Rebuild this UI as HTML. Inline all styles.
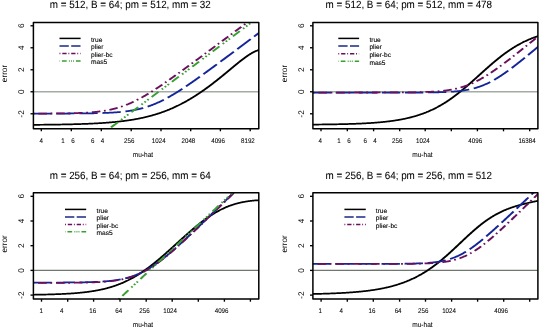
<!DOCTYPE html>
<html><head><meta charset="utf-8"><style>
html,body{margin:0;padding:0;background:#fff;width:539px;height:329px;overflow:hidden}
svg text{font-family:"Liberation Sans", sans-serif;fill:#000;stroke:#000;stroke-width:0.22px}
svg{will-change:transform}
svg text{text-rendering:geometricPrecision}
</style></head><body>
<svg width="539" height="329" viewBox="0 0 539 329" style="display:block">
<rect width="539" height="329" fill="#fff"/>
<defs>
<clipPath id="c1"><rect x="33.4" y="22.4" width="225.40" height="106.30"/></clipPath>
<clipPath id="c2"><rect x="312.9" y="22.4" width="225.00" height="106.30"/></clipPath>
<clipPath id="c3"><rect x="33.4" y="192.65" width="225.40" height="106.45"/></clipPath>
<clipPath id="c4"><rect x="312.9" y="192.7" width="225.00" height="106.40"/></clipPath>
</defs>
<line x1="33.4" y1="91.77" x2="258.8" y2="91.77" stroke="#a3aba3" stroke-width="1.6"/>
<g clip-path="url(#c1)"><g transform="scale(1,0.8)" fill="none" stroke-linejoin="round">
<path d="M27.40,156.06 L27.90,156.06 L28.40,156.06 L28.90,156.05 L29.40,156.05 L29.90,156.04 L30.40,156.04 L30.90,156.04 L31.40,156.03 L31.90,156.03 L32.40,156.03 L32.90,156.02 L33.40,156.02 L33.90,156.01 L34.40,156.01 L34.90,156.00 L35.40,156.00 L35.90,155.99 L36.40,155.99 L36.90,155.99 L37.40,155.98 L37.90,155.98 L38.40,155.97 L38.90,155.97 L39.40,155.96 L39.90,155.96 L40.40,155.95 L40.90,155.94 L41.40,155.94 L41.90,155.93 L42.40,155.93 L42.90,155.92 L43.40,155.92 L43.90,155.91 L44.40,155.90 L44.90,155.90 L45.40,155.89 L45.90,155.89 L46.40,155.88 L46.90,155.87 L47.40,155.87 L47.90,155.86 L48.40,155.85 L48.90,155.85 L49.40,155.84 L49.90,155.83 L50.40,155.82 L50.90,155.82 L51.40,155.81 L51.90,155.80 L52.40,155.79 L52.90,155.78 L53.40,155.78 L53.90,155.77 L54.40,155.76 L54.90,155.75 L55.40,155.74 L55.90,155.73 L56.40,155.72 L56.90,155.71 L57.40,155.71 L57.90,155.70 L58.40,155.69 L58.90,155.68 L59.40,155.67 L59.90,155.66 L60.40,155.65 L60.90,155.63 L61.40,155.62 L61.90,155.61 L62.40,155.60 L62.90,155.59 L63.40,155.58 L63.90,155.57 L64.40,155.56 L64.90,155.54 L65.40,155.53 L65.90,155.52 L66.40,155.51 L66.90,155.49 L67.40,155.48 L67.90,155.47 L68.40,155.45 L68.90,155.44 L69.40,155.43 L69.90,155.41 L70.40,155.40 L70.90,155.38 L71.40,155.37 L71.90,155.35 L72.40,155.34 L72.90,155.32 L73.40,155.31 L73.90,155.29 L74.40,155.27 L74.90,155.26 L75.40,155.24 L75.90,155.22 L76.40,155.20 L76.90,155.19 L77.40,155.17 L77.90,155.15 L78.40,155.13 L78.90,155.11 L79.40,155.09 L79.90,155.07 L80.40,155.05 L80.90,155.03 L81.40,155.01 L81.90,154.99 L82.40,154.97 L82.90,154.95 L83.40,154.92 L83.90,154.90 L84.40,154.88 L84.90,154.85 L85.40,154.83 L85.90,154.81 L86.40,154.78 L86.90,154.76 L87.40,154.73 L87.90,154.71 L88.40,154.68 L88.90,154.65 L89.40,154.63 L89.90,154.60 L90.40,154.57 L90.90,154.54 L91.40,154.51 L91.90,154.48 L92.40,154.45 L92.90,154.42 L93.40,154.39 L93.90,154.36 L94.40,154.33 L94.90,154.30 L95.40,154.26 L95.90,154.23 L96.40,154.20 L96.90,154.16 L97.40,154.13 L97.90,154.09 L98.40,154.06 L98.90,154.02 L99.40,153.98 L99.90,153.94 L100.40,153.91 L100.90,153.87 L101.40,153.83 L101.90,153.79 L102.40,153.74 L102.90,153.70 L103.40,153.66 L103.90,153.62 L104.40,153.57 L104.90,153.53 L105.40,153.48 L105.90,153.44 L106.40,153.39 L106.90,153.34 L107.40,153.30 L107.90,153.25 L108.40,153.20 L108.90,153.15 L109.40,153.10 L109.90,153.04 L110.40,152.99 L110.90,152.94 L111.40,152.88 L111.90,152.83 L112.40,152.77 L112.90,152.71 L113.40,152.66 L113.90,152.60 L114.40,152.54 L114.90,152.48 L115.40,152.41 L115.90,152.35 L116.40,152.29 L116.90,152.22 L117.40,152.16 L117.90,152.09 L118.40,152.02 L118.90,151.95 L119.40,151.88 L119.90,151.81 L120.40,151.74 L120.90,151.67 L121.40,151.59 L121.90,151.52 L122.40,151.44 L122.90,151.37 L123.40,151.29 L123.90,151.21 L124.40,151.13 L124.90,151.04 L125.40,150.96 L125.90,150.87 L126.40,150.79 L126.90,150.70 L127.40,150.61 L127.90,150.52 L128.40,150.43 L128.90,150.34 L129.40,150.25 L129.90,150.15 L130.40,150.05 L130.90,149.96 L131.40,149.86 L131.90,149.75 L132.40,149.65 L132.90,149.55 L133.40,149.44 L133.90,149.34 L134.40,149.23 L134.90,149.12 L135.40,149.01 L135.90,148.89 L136.40,148.78 L136.90,148.66 L137.40,148.54 L137.90,148.43 L138.40,148.30 L138.90,148.18 L139.40,148.06 L139.90,147.93 L140.40,147.80 L140.90,147.67 L141.40,147.54 L141.90,147.41 L142.40,147.27 L142.90,147.13 L143.40,147.00 L143.90,146.86 L144.40,146.71 L144.90,146.57 L145.40,146.42 L145.90,146.27 L146.40,146.12 L146.90,145.97 L147.40,145.82 L147.90,145.66 L148.40,145.50 L148.90,145.34 L149.40,145.18 L149.90,145.01 L150.40,144.85 L150.90,144.68 L151.40,144.51 L151.90,144.34 L152.40,144.16 L152.90,143.98 L153.40,143.80 L153.90,143.62 L154.40,143.44 L154.90,143.25 L155.40,143.06 L155.90,142.87 L156.40,142.68 L156.90,142.48 L157.40,142.29 L157.90,142.09 L158.40,141.88 L158.90,141.68 L159.40,141.47 L159.90,141.26 L160.40,141.05 L160.90,140.84 L161.40,140.62 L161.90,140.40 L162.40,140.18 L162.90,139.96 L163.40,139.73 L163.90,139.50 L164.40,139.27 L164.90,139.03 L165.40,138.80 L165.90,138.56 L166.40,138.31 L166.90,138.07 L167.40,137.82 L167.90,137.57 L168.40,137.32 L168.90,137.07 L169.40,136.81 L169.90,136.55 L170.40,136.29 L170.90,136.02 L171.40,135.75 L171.90,135.48 L172.40,135.21 L172.90,134.93 L173.40,134.65 L173.90,134.37 L174.40,134.09 L174.90,133.80 L175.40,133.51 L175.90,133.22 L176.40,132.92 L176.90,132.62 L177.40,132.32 L177.90,132.02 L178.40,131.71 L178.90,131.40 L179.40,131.09 L179.90,130.78 L180.40,130.46 L180.90,130.14 L181.40,129.82 L181.90,129.49 L182.40,129.17 L182.90,128.83 L183.40,128.50 L183.90,128.16 L184.40,127.83 L184.90,127.48 L185.40,127.14 L185.90,126.79 L186.40,126.44 L186.90,126.09 L187.40,125.73 L187.90,125.37 L188.40,125.01 L188.90,124.65 L189.40,124.28 L189.90,123.91 L190.40,123.54 L190.90,123.17 L191.40,122.79 L191.90,122.41 L192.40,122.03 L192.90,121.64 L193.40,121.26 L193.90,120.87 L194.40,120.47 L194.90,120.08 L195.40,119.68 L195.90,119.28 L196.40,118.88 L196.90,118.47 L197.40,118.06 L197.90,117.65 L198.40,117.24 L198.90,116.82 L199.40,116.40 L199.90,115.98 L200.40,115.56 L200.90,115.13 L201.40,114.71 L201.90,114.28 L202.40,113.84 L202.90,113.41 L203.40,112.97 L203.90,112.53 L204.40,112.09 L204.90,111.64 L205.40,111.20 L205.90,110.75 L206.40,110.30 L206.90,109.84 L207.40,109.39 L207.90,108.93 L208.40,108.47 L208.90,108.01 L209.40,107.54 L209.90,107.08 L210.40,106.61 L210.90,106.14 L211.40,105.66 L211.90,105.19 L212.40,104.71 L212.90,104.23 L213.40,103.75 L213.90,103.27 L214.40,102.79 L214.90,102.30 L215.40,101.82 L215.90,101.33 L216.40,100.83 L216.90,100.34 L217.40,99.85 L217.90,99.35 L218.40,98.85 L218.90,98.36 L219.40,97.86 L219.90,97.35 L220.40,96.85 L220.90,96.35 L221.40,95.84 L221.90,95.33 L222.40,94.82 L222.90,94.31 L223.40,93.80 L223.90,93.29 L224.40,92.78 L224.90,92.27 L225.40,91.75 L225.90,91.24 L226.40,90.72 L226.90,90.20 L227.40,89.69 L227.90,89.17 L228.40,88.65 L228.90,88.13 L229.40,87.61 L229.90,87.09 L230.40,86.57 L230.90,86.05 L231.40,85.54 L231.90,85.02 L232.40,84.50 L232.90,83.98 L233.40,83.46 L233.90,82.94 L234.40,82.43 L234.90,81.91 L235.40,81.40 L235.90,80.89 L236.40,80.37 L236.90,79.86 L237.40,79.36 L237.90,78.85 L238.40,78.35 L238.90,77.84 L239.40,77.34 L239.90,76.85 L240.40,76.35 L240.90,75.86 L241.40,75.37 L241.90,74.89 L242.40,74.41 L242.90,73.93 L243.40,73.46 L243.90,72.99 L244.40,72.52 L244.90,72.07 L245.40,71.61 L245.90,71.16 L246.40,70.72 L246.90,70.29 L247.40,69.86 L247.90,69.44 L248.40,69.02 L248.90,68.61 L249.40,68.21 L249.90,67.82 L250.40,67.44 L250.90,67.06 L251.40,66.69 L251.90,66.34 L252.40,65.99 L252.90,65.65 L253.40,65.33 L253.90,65.01 L254.40,64.70 L254.90,64.41 L255.40,64.12 L255.90,63.85 L256.40,63.59 L256.90,63.34 L257.40,63.11 L257.90,62.88 L258.40,62.67 L258.90,62.47 L259.40,62.28 L259.90,62.11 L260.40,61.95 L260.90,61.80 L261.40,61.67 L261.90,61.54 L262.40,61.43 L262.90,61.34 L263.40,61.25 L263.90,61.18 L264.40,61.12" stroke="#000000" stroke-width="2.15"/>
<path d="M27.40,141.95 L27.90,141.95 L28.40,141.95 L28.90,141.95 L29.40,141.95 L29.90,141.95 L30.40,141.95 L30.90,141.95 L31.40,141.95 L31.90,141.95 L32.40,141.95 L32.90,141.95 L33.40,141.95 L33.90,141.95 L34.40,141.95 L34.90,141.95 L35.40,141.95 L35.90,141.95 L36.40,141.95 L36.90,141.95 L37.40,141.95 L37.90,141.95 L38.40,141.95 L38.90,141.95 L39.40,141.95 L39.90,141.95 L40.40,141.94 L40.90,141.94 L41.40,141.94 L41.90,141.94 L42.40,141.94 L42.90,141.94 L43.40,141.94 L43.90,141.94 L44.40,141.94 L44.90,141.94 L45.40,141.94 L45.90,141.94 L46.40,141.94 L46.90,141.94 L47.40,141.94 L47.90,141.94 L48.40,141.94 L48.90,141.93 L49.40,141.93 L49.90,141.93 L50.40,141.93 L50.90,141.93 L51.40,141.93 L51.90,141.93 L52.40,141.93 L52.90,141.93 L53.40,141.93 L53.90,141.93 L54.40,141.92 L54.90,141.92 L55.40,141.92 L55.90,141.92 L56.40,141.92 L56.90,141.92 L57.40,141.92 L57.90,141.92 L58.40,141.92 L58.90,141.91 L59.40,141.91 L59.90,141.91 L60.40,141.91 L60.90,141.91 L61.40,141.91 L61.90,141.90 L62.40,141.90 L62.90,141.90 L63.40,141.90 L63.90,141.90 L64.40,141.89 L64.90,141.89 L65.40,141.89 L65.90,141.89 L66.40,141.89 L66.90,141.88 L67.40,141.88 L67.90,141.88 L68.40,141.88 L68.90,141.87 L69.40,141.87 L69.90,141.87 L70.40,141.87 L70.90,141.86 L71.40,141.86 L71.90,141.86 L72.40,141.85 L72.90,141.85 L73.40,141.85 L73.90,141.84 L74.40,141.84 L74.90,141.84 L75.40,141.83 L75.90,141.83 L76.40,141.82 L76.90,141.82 L77.40,141.81 L77.90,141.81 L78.40,141.81 L78.90,141.80 L79.40,141.80 L79.90,141.79 L80.40,141.79 L80.90,141.78 L81.40,141.77 L81.90,141.77 L82.40,141.76 L82.90,141.76 L83.40,141.75 L83.90,141.74 L84.40,141.74 L84.90,141.73 L85.40,141.72 L85.90,141.71 L86.40,141.71 L86.90,141.70 L87.40,141.69 L87.90,141.68 L88.40,141.67 L88.90,141.66 L89.40,141.65 L89.90,141.65 L90.40,141.64 L90.90,141.62 L91.40,141.61 L91.90,141.60 L92.40,141.59 L92.90,141.58 L93.40,141.57 L93.90,141.56 L94.40,141.54 L94.90,141.53 L95.40,141.52 L95.90,141.50 L96.40,141.49 L96.90,141.48 L97.40,141.46 L97.90,141.44 L98.40,141.43 L98.90,141.41 L99.40,141.39 L99.90,141.38 L100.40,141.36 L100.90,141.34 L101.40,141.32 L101.90,141.30 L102.40,141.28 L102.90,141.26 L103.40,141.24 L103.90,141.22 L104.40,141.19 L104.90,141.17 L105.40,141.14 L105.90,141.12 L106.40,141.09 L106.90,141.07 L107.40,141.04 L107.90,141.01 L108.40,140.98 L108.90,140.95 L109.40,140.92 L109.90,140.89 L110.40,140.86 L110.90,140.82 L111.40,140.79 L111.90,140.75 L112.40,140.71 L112.90,140.68 L113.40,140.64 L113.90,140.60 L114.40,140.56 L114.90,140.51 L115.40,140.47 L115.90,140.42 L116.40,140.38 L116.90,140.33 L117.40,140.28 L117.90,140.23 L118.40,140.18 L118.90,140.13 L119.40,140.07 L119.90,140.01 L120.40,139.96 L120.90,139.90 L121.40,139.84 L121.90,139.77 L122.40,139.71 L122.90,139.64 L123.40,139.57 L123.90,139.50 L124.40,139.43 L124.90,139.36 L125.40,139.28 L125.90,139.20 L126.40,139.12 L126.90,139.04 L127.40,138.96 L127.90,138.87 L128.40,138.78 L128.90,138.69 L129.40,138.60 L129.90,138.51 L130.40,138.41 L130.90,138.31 L131.40,138.20 L131.90,138.10 L132.40,137.99 L132.90,137.88 L133.40,137.77 L133.90,137.65 L134.40,137.53 L134.90,137.41 L135.40,137.29 L135.90,137.16 L136.40,137.03 L136.90,136.90 L137.40,136.76 L137.90,136.62 L138.40,136.48 L138.90,136.34 L139.40,136.19 L139.90,136.04 L140.40,135.88 L140.90,135.72 L141.40,135.56 L141.90,135.40 L142.40,135.23 L142.90,135.06 L143.40,134.88 L143.90,134.70 L144.40,134.52 L144.90,134.34 L145.40,134.15 L145.90,133.96 L146.40,133.76 L146.90,133.56 L147.40,133.36 L147.90,133.15 L148.40,132.94 L148.90,132.73 L149.40,132.51 L149.90,132.29 L150.40,132.06 L150.90,131.84 L151.40,131.60 L151.90,131.37 L152.40,131.13 L152.90,130.88 L153.40,130.64 L153.90,130.39 L154.40,130.13 L154.90,129.88 L155.40,129.61 L155.90,129.35 L156.40,129.08 L156.90,128.81 L157.40,128.53 L157.90,128.25 L158.40,127.97 L158.90,127.68 L159.40,127.39 L159.90,127.10 L160.40,126.80 L160.90,126.50 L161.40,126.20 L161.90,125.89 L162.40,125.58 L162.90,125.27 L163.40,124.95 L163.90,124.63 L164.40,124.31 L164.90,123.99 L165.40,123.66 L165.90,123.32 L166.40,122.99 L166.90,122.65 L167.40,122.31 L167.90,121.97 L168.40,121.62 L168.90,121.27 L169.40,120.92 L169.90,120.56 L170.40,120.20 L170.90,119.84 L171.40,119.48 L171.90,119.12 L172.40,118.75 L172.90,118.38 L173.40,118.00 L173.90,117.63 L174.40,117.25 L174.90,116.87 L175.40,116.49 L175.90,116.11 L176.40,115.72 L176.90,115.33 L177.40,114.94 L177.90,114.55 L178.40,114.15 L178.90,113.76 L179.40,113.36 L179.90,112.96 L180.40,112.56 L180.90,112.15 L181.40,111.75 L181.90,111.34 L182.40,110.93 L182.90,110.52 L183.40,110.11 L183.90,109.69 L184.40,109.28 L184.90,108.86 L185.40,108.44 L185.90,108.03 L186.40,107.60 L186.90,107.18 L187.40,106.76 L187.90,106.33 L188.40,105.91 L188.90,105.48 L189.40,105.05 L189.90,104.62 L190.40,104.19 L190.90,103.76 L191.40,103.33 L191.90,102.90 L192.40,102.46 L192.90,102.03 L193.40,101.59 L193.90,101.15 L194.40,100.71 L194.90,100.27 L195.40,99.83 L195.90,99.39 L196.40,98.95 L196.90,98.51 L197.40,98.07 L197.90,97.62 L198.40,97.18 L198.90,96.73 L199.40,96.28 L199.90,95.84 L200.40,95.39 L200.90,94.94 L201.40,94.49 L201.90,94.04 L202.40,93.59 L202.90,93.14 L203.40,92.69 L203.90,92.24 L204.40,91.79 L204.90,91.34 L205.40,90.88 L205.90,90.43 L206.40,89.98 L206.90,89.52 L207.40,89.07 L207.90,88.61 L208.40,88.16 L208.90,87.70 L209.40,87.25 L209.90,86.79 L210.40,86.33 L210.90,85.87 L211.40,85.42 L211.90,84.96 L212.40,84.50 L212.90,84.04 L213.40,83.58 L213.90,83.12 L214.40,82.66 L214.90,82.20 L215.40,81.74 L215.90,81.28 L216.40,80.82 L216.90,80.36 L217.40,79.90 L217.90,79.44 L218.40,78.98 L218.90,78.52 L219.40,78.05 L219.90,77.59 L220.40,77.13 L220.90,76.67 L221.40,76.20 L221.90,75.74 L222.40,75.28 L222.90,74.81 L223.40,74.35 L223.90,73.89 L224.40,73.42 L224.90,72.96 L225.40,72.50 L225.90,72.03 L226.40,71.57 L226.90,71.10 L227.40,70.64 L227.90,70.17 L228.40,69.71 L228.90,69.24 L229.40,68.78 L229.90,68.31 L230.40,67.85 L230.90,67.38 L231.40,66.92 L231.90,66.45 L232.40,65.99 L232.90,65.52 L233.40,65.05 L233.90,64.59 L234.40,64.12 L234.90,63.66 L235.40,63.19 L235.90,62.72 L236.40,62.26 L236.90,61.79 L237.40,61.33 L237.90,60.86 L238.40,60.39 L238.90,59.93 L239.40,59.46 L239.90,58.99 L240.40,58.53 L240.90,58.06 L241.40,57.59 L241.90,57.12 L242.40,56.66 L242.90,56.19 L243.40,55.72 L243.90,55.26 L244.40,54.79 L244.90,54.32 L245.40,53.85 L245.90,53.39 L246.40,52.92 L246.90,52.45 L247.40,51.98 L247.90,51.52 L248.40,51.05 L248.90,50.58 L249.40,50.11 L249.90,49.65 L250.40,49.18 L250.90,48.71 L251.40,48.24 L251.90,47.78 L252.40,47.31 L252.90,46.84 L253.40,46.37 L253.90,45.90 L254.40,45.44 L254.90,44.97 L255.40,44.50 L255.90,44.03 L256.40,43.56 L256.90,43.10 L257.40,42.63 L257.90,42.16 L258.40,41.69 L258.90,41.22 L259.40,40.76 L259.90,40.29 L260.40,39.82 L260.90,39.35 L261.40,38.88 L261.90,38.42 L262.40,37.95 L262.90,37.48 L263.40,37.01 L263.90,36.54 L264.40,36.07" stroke="#14259a" stroke-width="2.2" stroke-dasharray="18.35 4.73" stroke-dashoffset="17.29"/>
<path d="M27.40,141.99 L27.90,141.99 L28.40,141.99 L28.90,141.99 L29.40,141.98 L29.90,141.98 L30.40,141.98 L30.90,141.98 L31.40,141.98 L31.90,141.98 L32.40,141.98 L32.90,141.98 L33.40,141.97 L33.90,141.97 L34.40,141.97 L34.90,141.97 L35.40,141.97 L35.90,141.97 L36.40,141.97 L36.90,141.96 L37.40,141.96 L37.90,141.96 L38.40,141.96 L38.90,141.96 L39.40,141.95 L39.90,141.95 L40.40,141.95 L40.90,141.95 L41.40,141.94 L41.90,141.94 L42.40,141.94 L42.90,141.94 L43.40,141.93 L43.90,141.93 L44.40,141.93 L44.90,141.93 L45.40,141.92 L45.90,141.92 L46.40,141.92 L46.90,141.91 L47.40,141.91 L47.90,141.91 L48.40,141.90 L48.90,141.90 L49.40,141.90 L49.90,141.89 L50.40,141.89 L50.90,141.88 L51.40,141.88 L51.90,141.87 L52.40,141.87 L52.90,141.87 L53.40,141.86 L53.90,141.86 L54.40,141.85 L54.90,141.84 L55.40,141.84 L55.90,141.83 L56.40,141.83 L56.90,141.82 L57.40,141.82 L57.90,141.81 L58.40,141.80 L58.90,141.79 L59.40,141.79 L59.90,141.78 L60.40,141.77 L60.90,141.76 L61.40,141.76 L61.90,141.75 L62.40,141.74 L62.90,141.73 L63.40,141.72 L63.90,141.71 L64.40,141.70 L64.90,141.69 L65.40,141.68 L65.90,141.67 L66.40,141.66 L66.90,141.65 L67.40,141.64 L67.90,141.62 L68.40,141.61 L68.90,141.60 L69.40,141.59 L69.90,141.57 L70.40,141.56 L70.90,141.54 L71.40,141.53 L71.90,141.51 L72.40,141.50 L72.90,141.48 L73.40,141.46 L73.90,141.45 L74.40,141.43 L74.90,141.41 L75.40,141.39 L75.90,141.37 L76.40,141.35 L76.90,141.33 L77.40,141.31 L77.90,141.28 L78.40,141.26 L78.90,141.24 L79.40,141.21 L79.90,141.19 L80.40,141.16 L80.90,141.13 L81.40,141.11 L81.90,141.08 L82.40,141.05 L82.90,141.02 L83.40,140.99 L83.90,140.96 L84.40,140.92 L84.90,140.89 L85.40,140.85 L85.90,140.82 L86.40,140.78 L86.90,140.74 L87.40,140.70 L87.90,140.66 L88.40,140.62 L88.90,140.58 L89.40,140.53 L89.90,140.49 L90.40,140.44 L90.90,140.39 L91.40,140.34 L91.90,140.29 L92.40,140.24 L92.90,140.19 L93.40,140.13 L93.90,140.07 L94.40,140.02 L94.90,139.96 L95.40,139.89 L95.90,139.83 L96.40,139.76 L96.90,139.70 L97.40,139.63 L97.90,139.56 L98.40,139.49 L98.90,139.41 L99.40,139.33 L99.90,139.25 L100.40,139.17 L100.90,139.09 L101.40,139.01 L101.90,138.92 L102.40,138.83 L102.90,138.74 L103.40,138.64 L103.90,138.54 L104.40,138.45 L104.90,138.34 L105.40,138.24 L105.90,138.13 L106.40,138.02 L106.90,137.91 L107.40,137.80 L107.90,137.68 L108.40,137.56 L108.90,137.43 L109.40,137.31 L109.90,137.18 L110.40,137.05 L110.90,136.91 L111.40,136.77 L111.90,136.63 L112.40,136.49 L112.90,136.34 L113.40,136.19 L113.90,136.03 L114.40,135.88 L114.90,135.72 L115.40,135.55 L115.90,135.38 L116.40,135.21 L116.90,135.04 L117.40,134.86 L117.90,134.68 L118.40,134.49 L118.90,134.31 L119.40,134.11 L119.90,133.92 L120.40,133.72 L120.90,133.52 L121.40,133.31 L121.90,133.10 L122.40,132.89 L122.90,132.67 L123.40,132.45 L123.90,132.22 L124.40,132.00 L124.90,131.76 L125.40,131.53 L125.90,131.29 L126.40,131.04 L126.90,130.80 L127.40,130.55 L127.90,130.29 L128.40,130.04 L128.90,129.77 L129.40,129.51 L129.90,129.24 L130.40,128.97 L130.90,128.69 L131.40,128.41 L131.90,128.13 L132.40,127.84 L132.90,127.55 L133.40,127.26 L133.90,126.96 L134.40,126.66 L134.90,126.36 L135.40,126.05 L135.90,125.74 L136.40,125.43 L136.90,125.11 L137.40,124.79 L137.90,124.47 L138.40,124.14 L138.90,123.81 L139.40,123.48 L139.90,123.15 L140.40,122.81 L140.90,122.47 L141.40,122.12 L141.90,121.78 L142.40,121.43 L142.90,121.08 L143.40,120.72 L143.90,120.36 L144.40,120.00 L144.90,119.64 L145.40,119.28 L145.90,118.91 L146.40,118.54 L146.90,118.16 L147.40,117.79 L147.90,117.41 L148.40,117.03 L148.90,116.65 L149.40,116.27 L149.90,115.88 L150.40,115.49 L150.90,115.10 L151.40,114.71 L151.90,114.32 L152.40,113.92 L152.90,113.53 L153.40,113.13 L153.90,112.72 L154.40,112.32 L154.90,111.92 L155.40,111.51 L155.90,111.10 L156.40,110.69 L156.90,110.28 L157.40,109.87 L157.90,109.46 L158.40,109.04 L158.90,108.62 L159.40,108.21 L159.90,107.79 L160.40,107.37 L160.90,106.94 L161.40,106.52 L161.90,106.10 L162.40,105.67 L162.90,105.24 L163.40,104.82 L163.90,104.39 L164.40,103.96 L164.90,103.53 L165.40,103.09 L165.90,102.66 L166.40,102.23 L166.90,101.79 L167.40,101.36 L167.90,100.92 L168.40,100.48 L168.90,100.04 L169.40,99.60 L169.90,99.16 L170.40,98.72 L170.90,98.28 L171.40,97.84 L171.90,97.40 L172.40,96.95 L172.90,96.51 L173.40,96.07 L173.90,95.62 L174.40,95.17 L174.90,94.73 L175.40,94.28 L175.90,93.83 L176.40,93.39 L176.90,92.94 L177.40,92.49 L177.90,92.04 L178.40,91.59 L178.90,91.14 L179.40,90.69 L179.90,90.24 L180.40,89.78 L180.90,89.33 L181.40,88.88 L181.90,88.43 L182.40,87.97 L182.90,87.52 L183.40,87.06 L183.90,86.61 L184.40,86.15 L184.90,85.70 L185.40,85.24 L185.90,84.79 L186.40,84.33 L186.90,83.88 L187.40,83.42 L187.90,82.96 L188.40,82.51 L188.90,82.05 L189.40,81.59 L189.90,81.13 L190.40,80.67 L190.90,80.22 L191.40,79.76 L191.90,79.30 L192.40,78.84 L192.90,78.38 L193.40,77.92 L193.90,77.46 L194.40,77.00 L194.90,76.54 L195.40,76.08 L195.90,75.62 L196.40,75.16 L196.90,74.70 L197.40,74.24 L197.90,73.78 L198.40,73.32 L198.90,72.86 L199.40,72.40 L199.90,71.94 L200.40,71.47 L200.90,71.01 L201.40,70.55 L201.90,70.09 L202.40,69.63 L202.90,69.17 L203.40,68.70 L203.90,68.24 L204.40,67.78 L204.90,67.32 L205.40,66.85 L205.90,66.39 L206.40,65.93 L206.90,65.47 L207.40,65.00 L207.90,64.54 L208.40,64.08 L208.90,63.61 L209.40,63.15 L209.90,62.69 L210.40,62.22 L210.90,61.76 L211.40,61.30 L211.90,60.83 L212.40,60.37 L212.90,59.91 L213.40,59.44 L213.90,58.98 L214.40,58.52 L214.90,58.05 L215.40,57.59 L215.90,57.12 L216.40,56.66 L216.90,56.20 L217.40,55.73 L217.90,55.27 L218.40,54.80 L218.90,54.34 L219.40,53.88 L219.90,53.41 L220.40,52.95 L220.90,52.48 L221.40,52.02 L221.90,51.55 L222.40,51.09 L222.90,50.63 L223.40,50.16 L223.90,49.70 L224.40,49.23 L224.90,48.77 L225.40,48.30 L225.90,47.84 L226.40,47.37 L226.90,46.91 L227.40,46.45 L227.90,45.98 L228.40,45.52 L228.90,45.05 L229.40,44.59 L229.90,44.12 L230.40,43.66 L230.90,43.19 L231.40,42.73 L231.90,42.26 L232.40,41.80 L232.90,41.33 L233.40,40.87 L233.90,40.40 L234.40,39.94 L234.90,39.47 L235.40,39.01 L235.90,38.54 L236.40,38.08 L236.90,37.61 L237.40,37.15 L237.90,36.68 L238.40,36.22 L238.90,35.75 L239.40,35.29 L239.90,34.82 L240.40,34.36 L240.90,33.89 L241.40,33.43 L241.90,32.96 L242.40,32.50 L242.90,32.03 L243.40,31.57 L243.90,31.10 L244.40,30.64 L244.90,30.17 L245.40,29.71 L245.90,29.24 L246.40,28.78 L246.90,28.31 L247.40,27.85 L247.90,27.38 L248.40,26.92 L248.90,26.45 L249.40,25.99 L249.90,25.52 L250.40,25.06 L250.90,24.59 L251.40,24.13 L251.90,23.66 L252.40,23.20 L252.90,22.73 L253.40,22.27 L253.90,21.80 L254.40,21.34 L254.90,20.87 L255.40,20.41 L255.90,19.94 L256.40,19.48 L256.90,19.01 L257.40,18.54 L257.90,18.08 L258.40,17.61 L258.90,17.15 L259.40,16.68 L259.90,16.22 L260.40,15.75 L260.90,15.29 L261.40,14.82 L261.90,14.36 L262.40,13.89 L262.90,13.43 L263.40,12.96 L263.90,12.50 L264.40,12.03" stroke="#6a0f5c" stroke-width="2.2" stroke-dasharray="1.805 3.815 8.62 3.61" stroke-dashoffset="12.52"/>
<path d="M96.80,172.45 L97.80,171.52 L98.80,170.59 L99.80,169.65 L100.80,168.72 L101.80,167.78 L102.80,166.85 L103.80,165.92 L104.80,164.98 L105.80,164.05 L106.80,163.12 L107.80,162.18 L108.80,161.25 L109.80,160.32 L110.80,159.38 L111.80,158.45 L112.80,157.52 L113.80,156.58 L114.80,155.65 L115.80,154.72 L116.80,153.78 L117.80,152.85 L118.80,151.91 L119.80,150.98 L120.80,150.05 L121.80,149.11 L122.80,148.18 L123.80,147.25 L124.80,146.31 L125.80,145.38 L126.80,144.45 L127.80,143.51 L128.80,142.58 L129.80,141.65 L130.80,140.71 L131.80,139.78 L132.80,138.84 L133.80,137.91 L134.80,136.98 L135.80,136.04 L136.80,135.11 L137.80,134.18 L138.80,133.24 L139.80,132.31 L140.80,131.38 L141.80,130.44 L142.80,129.51 L143.80,128.58 L144.80,127.64 L145.80,126.71 L146.80,125.77 L147.80,124.84 L148.80,123.91 L149.80,122.97 L150.80,122.04 L151.80,121.11 L152.80,120.17 L153.80,119.24 L154.80,118.31 L155.80,117.37 L156.80,116.44 L157.80,115.51 L158.80,114.57 L159.80,113.64 L160.80,112.71 L161.80,111.77 L162.80,110.84 L163.80,109.90 L164.80,108.97 L165.80,108.04 L166.80,107.10 L167.80,106.17 L168.80,105.24 L169.80,104.30 L170.80,103.37 L171.80,102.44 L172.80,101.50 L173.80,100.57 L174.80,99.64 L175.80,98.70 L176.80,97.77 L177.80,96.83 L178.80,95.90 L179.80,94.97 L180.80,94.03 L181.80,93.10 L182.80,92.17 L183.80,91.23 L184.80,90.30 L185.80,89.37 L186.80,88.43 L187.80,87.50 L188.80,86.57 L189.80,85.63 L190.80,84.70 L191.80,83.76 L192.80,82.83 L193.80,81.90 L194.80,80.96 L195.80,80.03 L196.80,79.10 L197.80,78.16 L198.80,77.23 L199.80,76.30 L200.80,75.36 L201.80,74.43 L202.80,73.50 L203.80,72.56 L204.80,71.63 L205.80,70.70 L206.80,69.76 L207.80,68.83 L208.80,67.89 L209.80,66.96 L210.80,66.03 L211.80,65.09 L212.80,64.16 L213.80,63.23 L214.80,62.29 L215.80,61.36 L216.80,60.43 L217.80,59.49 L218.80,58.56 L219.80,57.63 L220.80,56.69 L221.80,55.76 L222.80,54.82 L223.80,53.89 L224.80,52.96 L225.80,52.02 L226.80,51.09 L227.80,50.16 L228.80,49.22 L229.80,48.29 L230.80,47.36 L231.80,46.42 L232.80,45.49 L233.80,44.56 L234.80,43.62 L235.80,42.69 L236.80,41.75 L237.80,40.82 L238.80,39.89 L239.80,38.95 L240.80,38.02 L241.80,37.09 L242.80,36.15 L243.80,35.22 L244.80,34.29 L245.80,33.35 L246.80,32.42 L247.80,31.49 L248.80,30.55 L249.80,29.62 L250.80,28.69 L251.80,27.75 L252.80,26.82 L253.80,25.88 L254.80,24.95 L255.80,24.02 L256.80,23.08 L257.80,22.15 L258.80,21.22 L259.80,20.28 L260.80,19.35 L261.80,18.42 L262.80,17.48" stroke="#36a031" stroke-width="2.2" stroke-dasharray="9.33 4.47 1.79 2.38 1.79 2.18 1.79 4.07" stroke-dashoffset="8.37"/>
</g></g>
<rect x="33.4" y="22.4" width="225.40" height="106.30" fill="none" stroke="#000" stroke-width="1.5" stroke-linejoin="round"/>
<line x1="30.50" y1="25.77" x2="33.4" y2="25.77" stroke="#000" stroke-width="1.35"/>
<text transform="translate(21.60,25.77) rotate(-90)" text-anchor="middle" dominant-baseline="central" font-size="8.2" style="stroke-width:0.0px">6</text>
<line x1="30.50" y1="47.77" x2="33.4" y2="47.77" stroke="#000" stroke-width="1.35"/>
<text transform="translate(21.60,47.77) rotate(-90)" text-anchor="middle" dominant-baseline="central" font-size="8.2" style="stroke-width:0.0px">4</text>
<line x1="30.50" y1="69.77" x2="33.4" y2="69.77" stroke="#000" stroke-width="1.35"/>
<text transform="translate(21.60,69.77) rotate(-90)" text-anchor="middle" dominant-baseline="central" font-size="8.2" style="stroke-width:0.0px">2</text>
<line x1="30.50" y1="91.77" x2="33.4" y2="91.77" stroke="#000" stroke-width="1.35"/>
<text transform="translate(21.60,91.77) rotate(-90)" text-anchor="middle" dominant-baseline="central" font-size="8.2" style="stroke-width:0.0px">0</text>
<line x1="30.50" y1="113.77" x2="33.4" y2="113.77" stroke="#000" stroke-width="1.35"/>
<text transform="translate(21.60,113.77) rotate(-90)" text-anchor="middle" dominant-baseline="central" font-size="8.2" style="stroke-width:0.0px">-2</text>
<line x1="41.3" y1="128.7" x2="41.3" y2="131.30" stroke="#000" stroke-width="1.35"/>
<text transform="translate(41.30,142.60) scale(1,1.1)" text-anchor="middle" font-size="6.2" style="stroke-width:0.05px">4</text>
<line x1="71.3" y1="128.7" x2="71.3" y2="131.30" stroke="#000" stroke-width="1.35"/>
<text transform="translate(62.90,142.60) scale(1,1.1)" text-anchor="middle" font-size="6.2" style="stroke-width:0.05px">1</text>
<text transform="translate(72.90,142.60) scale(1,1.1)" text-anchor="middle" font-size="6.2" style="stroke-width:0.05px">6</text>
<line x1="101.3" y1="128.7" x2="101.3" y2="131.30" stroke="#000" stroke-width="1.35"/>
<text transform="translate(92.80,142.60) scale(1,1.1)" text-anchor="middle" font-size="6.2" style="stroke-width:0.05px">6</text>
<text transform="translate(102.50,142.60) scale(1,1.1)" text-anchor="middle" font-size="6.2" style="stroke-width:0.05px">4</text>
<line x1="131.2" y1="128.7" x2="131.2" y2="131.30" stroke="#000" stroke-width="1.35"/>
<text transform="translate(129.20,142.60) scale(1,1.1)" text-anchor="middle" font-size="6.2" style="stroke-width:0.05px">256</text>
<line x1="161" y1="128.7" x2="161" y2="131.30" stroke="#000" stroke-width="1.35"/>
<text transform="translate(158.70,142.60) scale(1,1.1)" text-anchor="middle" font-size="6.2" style="stroke-width:0.05px">1024</text>
<line x1="190.7" y1="128.7" x2="190.7" y2="131.30" stroke="#000" stroke-width="1.35"/>
<text transform="translate(188.40,142.60) scale(1,1.1)" text-anchor="middle" font-size="6.2" style="stroke-width:0.05px">2048</text>
<line x1="220.4" y1="128.7" x2="220.4" y2="131.30" stroke="#000" stroke-width="1.35"/>
<text transform="translate(218.10,142.60) scale(1,1.1)" text-anchor="middle" font-size="6.2" style="stroke-width:0.05px">4096</text>
<line x1="250.2" y1="128.7" x2="250.2" y2="131.30" stroke="#000" stroke-width="1.35"/>
<text transform="translate(247.90,142.60) scale(1,1.1)" text-anchor="middle" font-size="6.2" style="stroke-width:0.05px">8192</text>
<text transform="translate(142.90,156.90) scale(1,1.1)" text-anchor="middle" font-size="6.55" style="stroke-width:0.05px">mu-hat</text>
<text transform="translate(4.60,73.50) rotate(-90)" text-anchor="middle" dominant-baseline="central" font-size="8.2" style="stroke-width:0.0px">error</text>
<text transform="translate(49.7,8.35) scale(1,1.07)" font-size="9.8" style="stroke-width:0.05px" textLength="161.0" lengthAdjust="spacingAndGlyphs">m = 512, B = 64; pm = 512, mm = 32</text>
<line x1="59.5" y1="38.4" x2="80.6" y2="38.4" stroke="#000000" stroke-width="1.5"/>
<text x="91.0" y="41.70" font-size="6.6" style="stroke-width:0.1px">true</text>
<line x1="59.5" y1="46.0" x2="80.6" y2="46.0" stroke="#182a88" stroke-width="1.5" stroke-dasharray="9.3 2.4" stroke-dashoffset="0"/>
<text x="91.0" y="49.30" font-size="6.6" style="stroke-width:0.1px">plier</text>
<line x1="59.5" y1="53.6" x2="80.6" y2="53.6" stroke="#6a0f5c" stroke-width="1.5" stroke-dasharray="0.9 1.9 4.3 1.8" stroke-dashoffset="0"/>
<text x="91.0" y="56.90" font-size="6.6" style="stroke-width:0.1px">plier-bc</text>
<line x1="59.5" y1="61.1" x2="80.6" y2="61.1" stroke="#36a031" stroke-width="1.5" stroke-dasharray="4.7 2.25 0.9 1.2 0.9 1.1 0.9 2.05" stroke-dashoffset="-2.45"/>
<text x="91.0" y="64.40" font-size="6.6" style="stroke-width:0.1px">mas5</text>
<line x1="312.9" y1="91.77" x2="537.9" y2="91.77" stroke="#a3aba3" stroke-width="1.6"/>
<g clip-path="url(#c2)"><g transform="scale(1,0.8)" fill="none" stroke-linejoin="round">
<path d="M306.90,155.76 L307.40,155.76 L307.90,155.76 L308.40,155.75 L308.90,155.75 L309.40,155.74 L309.90,155.74 L310.40,155.73 L310.90,155.73 L311.40,155.73 L311.90,155.72 L312.40,155.72 L312.90,155.71 L313.40,155.71 L313.90,155.70 L314.40,155.70 L314.90,155.69 L315.40,155.69 L315.90,155.68 L316.40,155.67 L316.90,155.67 L317.40,155.66 L317.90,155.66 L318.40,155.65 L318.90,155.65 L319.40,155.64 L319.90,155.63 L320.40,155.63 L320.90,155.62 L321.40,155.61 L321.90,155.61 L322.40,155.60 L322.90,155.59 L323.40,155.59 L323.90,155.58 L324.40,155.57 L324.90,155.56 L325.40,155.56 L325.90,155.55 L326.40,155.54 L326.90,155.53 L327.40,155.52 L327.90,155.52 L328.40,155.51 L328.90,155.50 L329.40,155.49 L329.90,155.48 L330.40,155.47 L330.90,155.46 L331.40,155.45 L331.90,155.44 L332.40,155.43 L332.90,155.42 L333.40,155.41 L333.90,155.40 L334.40,155.39 L334.90,155.38 L335.40,155.37 L335.90,155.36 L336.40,155.35 L336.90,155.34 L337.40,155.32 L337.90,155.31 L338.40,155.30 L338.90,155.29 L339.40,155.27 L339.90,155.26 L340.40,155.25 L340.90,155.23 L341.40,155.22 L341.90,155.21 L342.40,155.19 L342.90,155.18 L343.40,155.16 L343.90,155.15 L344.40,155.13 L344.90,155.12 L345.40,155.10 L345.90,155.08 L346.40,155.07 L346.90,155.05 L347.40,155.03 L347.90,155.02 L348.40,155.00 L348.90,154.98 L349.40,154.96 L349.90,154.94 L350.40,154.92 L350.90,154.90 L351.40,154.88 L351.90,154.86 L352.40,154.84 L352.90,154.82 L353.40,154.80 L353.90,154.78 L354.40,154.75 L354.90,154.73 L355.40,154.71 L355.90,154.69 L356.40,154.66 L356.90,154.64 L357.40,154.61 L357.90,154.59 L358.40,154.56 L358.90,154.53 L359.40,154.51 L359.90,154.48 L360.40,154.45 L360.90,154.42 L361.40,154.40 L361.90,154.37 L362.40,154.34 L362.90,154.31 L363.40,154.28 L363.90,154.24 L364.40,154.21 L364.90,154.18 L365.40,154.15 L365.90,154.11 L366.40,154.08 L366.90,154.04 L367.40,154.01 L367.90,153.97 L368.40,153.93 L368.90,153.90 L369.40,153.86 L369.90,153.82 L370.40,153.78 L370.90,153.74 L371.40,153.70 L371.90,153.65 L372.40,153.61 L372.90,153.57 L373.40,153.52 L373.90,153.48 L374.40,153.43 L374.90,153.39 L375.40,153.34 L375.90,153.29 L376.40,153.24 L376.90,153.19 L377.40,153.14 L377.90,153.09 L378.40,153.03 L378.90,152.98 L379.40,152.92 L379.90,152.87 L380.40,152.81 L380.90,152.75 L381.40,152.69 L381.90,152.63 L382.40,152.57 L382.90,152.51 L383.40,152.45 L383.90,152.38 L384.40,152.32 L384.90,152.25 L385.40,152.18 L385.90,152.12 L386.40,152.05 L386.90,151.97 L387.40,151.90 L387.90,151.83 L388.40,151.75 L388.90,151.68 L389.40,151.60 L389.90,151.52 L390.40,151.44 L390.90,151.36 L391.40,151.27 L391.90,151.19 L392.40,151.10 L392.90,151.01 L393.40,150.92 L393.90,150.83 L394.40,150.74 L394.90,150.65 L395.40,150.55 L395.90,150.45 L396.40,150.35 L396.90,150.25 L397.40,150.15 L397.90,150.05 L398.40,149.94 L398.90,149.83 L399.40,149.73 L399.90,149.61 L400.40,149.50 L400.90,149.39 L401.40,149.27 L401.90,149.15 L402.40,149.03 L402.90,148.91 L403.40,148.78 L403.90,148.66 L404.40,148.53 L404.90,148.40 L405.40,148.26 L405.90,148.13 L406.40,147.99 L406.90,147.85 L407.40,147.71 L407.90,147.56 L408.40,147.42 L408.90,147.27 L409.40,147.12 L409.90,146.96 L410.40,146.81 L410.90,146.65 L411.40,146.49 L411.90,146.32 L412.40,146.16 L412.90,145.99 L413.40,145.82 L413.90,145.64 L414.40,145.47 L414.90,145.29 L415.40,145.10 L415.90,144.92 L416.40,144.73 L416.90,144.54 L417.40,144.35 L417.90,144.15 L418.40,143.95 L418.90,143.75 L419.40,143.54 L419.90,143.33 L420.40,143.12 L420.90,142.91 L421.40,142.69 L421.90,142.47 L422.40,142.25 L422.90,142.02 L423.40,141.79 L423.90,141.55 L424.40,141.32 L424.90,141.08 L425.40,140.83 L425.90,140.59 L426.40,140.33 L426.90,140.08 L427.40,139.82 L427.90,139.56 L428.40,139.30 L428.90,139.03 L429.40,138.76 L429.90,138.48 L430.40,138.20 L430.90,137.92 L431.40,137.63 L431.90,137.34 L432.40,137.05 L432.90,136.75 L433.40,136.45 L433.90,136.15 L434.40,135.84 L434.90,135.53 L435.40,135.21 L435.90,134.89 L436.40,134.56 L436.90,134.24 L437.40,133.90 L437.90,133.57 L438.40,133.23 L438.90,132.88 L439.40,132.54 L439.90,132.19 L440.40,131.83 L440.90,131.47 L441.40,131.11 L441.90,130.74 L442.40,130.37 L442.90,129.99 L443.40,129.61 L443.90,129.23 L444.40,128.84 L444.90,128.45 L445.40,128.06 L445.90,127.66 L446.40,127.25 L446.90,126.85 L447.40,126.44 L447.90,126.02 L448.40,125.60 L448.90,125.18 L449.40,124.75 L449.90,124.32 L450.40,123.89 L450.90,123.45 L451.40,123.01 L451.90,122.56 L452.40,122.11 L452.90,121.66 L453.40,121.20 L453.90,120.74 L454.40,120.28 L454.90,119.81 L455.40,119.34 L455.90,118.87 L456.40,118.39 L456.90,117.91 L457.40,117.42 L457.90,116.94 L458.40,116.44 L458.90,115.95 L459.40,115.45 L459.90,114.95 L460.40,114.45 L460.90,113.94 L461.40,113.43 L461.90,112.92 L462.40,112.40 L462.90,111.89 L463.40,111.36 L463.90,110.84 L464.40,110.32 L464.90,109.79 L465.40,109.26 L465.90,108.72 L466.40,108.19 L466.90,107.65 L467.40,107.11 L467.90,106.57 L468.40,106.02 L468.90,105.48 L469.40,104.93 L469.90,104.38 L470.40,103.83 L470.90,103.28 L471.40,102.72 L471.90,102.17 L472.40,101.61 L472.90,101.05 L473.40,100.49 L473.90,99.93 L474.40,99.37 L474.90,98.81 L475.40,98.25 L475.90,97.69 L476.40,97.12 L476.90,96.56 L477.40,95.99 L477.90,95.43 L478.40,94.86 L478.90,94.29 L479.40,93.73 L479.90,93.16 L480.40,92.60 L480.90,92.03 L481.40,91.47 L481.90,90.90 L482.40,90.34 L482.90,89.78 L483.40,89.21 L483.90,88.65 L484.40,88.09 L484.90,87.53 L485.40,86.97 L485.90,86.41 L486.40,85.86 L486.90,85.30 L487.40,84.75 L487.90,84.19 L488.40,83.64 L488.90,83.09 L489.40,82.55 L489.90,82.00 L490.40,81.46 L490.90,80.91 L491.40,80.37 L491.90,79.84 L492.40,79.30 L492.90,78.77 L493.40,78.24 L493.90,77.71 L494.40,77.18 L494.90,76.66 L495.40,76.14 L495.90,75.62 L496.40,75.11 L496.90,74.59 L497.40,74.09 L497.90,73.58 L498.40,73.08 L498.90,72.58 L499.40,72.08 L499.90,71.59 L500.40,71.09 L500.90,70.61 L501.40,70.12 L501.90,69.64 L502.40,69.17 L502.90,68.69 L503.40,68.22 L503.90,67.76 L504.40,67.29 L504.90,66.83 L505.40,66.38 L505.90,65.93 L506.40,65.48 L506.90,65.03 L507.40,64.59 L507.90,64.16 L508.40,63.73 L508.90,63.30 L509.40,62.87 L509.90,62.45 L510.40,62.03 L510.90,61.62 L511.40,61.21 L511.90,60.81 L512.40,60.41 L512.90,60.01 L513.40,59.62 L513.90,59.23 L514.40,58.84 L514.90,58.46 L515.40,58.09 L515.90,57.72 L516.40,57.35 L516.90,56.98 L517.40,56.62 L517.90,56.27 L518.40,55.92 L518.90,55.57 L519.40,55.22 L519.90,54.89 L520.40,54.55 L520.90,54.22 L521.40,53.89 L521.90,53.57 L522.40,53.25 L522.90,52.93 L523.40,52.62 L523.90,52.31 L524.40,52.01 L524.90,51.71 L525.40,51.42 L525.90,51.13 L526.40,50.84 L526.90,50.55 L527.40,50.27 L527.90,50.00 L528.40,49.73 L528.90,49.46 L529.40,49.19 L529.90,48.93 L530.40,48.68 L530.90,48.42 L531.40,48.17 L531.90,47.93 L532.40,47.68 L532.90,47.45 L533.40,47.21 L533.90,46.98 L534.40,46.75 L534.90,46.53 L535.40,46.31 L535.90,46.09 L536.40,45.87 L536.90,45.66 L537.40,45.45 L537.90,45.25 L538.40,45.05 L538.90,44.85 L539.40,44.66 L539.90,44.47 L540.40,44.28 L540.90,44.09 L541.40,43.91 L541.90,43.73 L542.40,43.56 L542.90,43.38 L543.40,43.22" stroke="#000000" stroke-width="2.15"/>
<path d="M306.90,115.77 L307.40,115.77 L307.90,115.77 L308.40,115.77 L308.90,115.77 L309.40,115.77 L309.90,115.77 L310.40,115.77 L310.90,115.77 L311.40,115.77 L311.90,115.77 L312.40,115.77 L312.90,115.77 L313.40,115.77 L313.90,115.77 L314.40,115.77 L314.90,115.77 L315.40,115.77 L315.90,115.77 L316.40,115.77 L316.90,115.77 L317.40,115.77 L317.90,115.77 L318.40,115.77 L318.90,115.77 L319.40,115.77 L319.90,115.77 L320.40,115.77 L320.90,115.77 L321.40,115.77 L321.90,115.77 L322.40,115.77 L322.90,115.77 L323.40,115.77 L323.90,115.77 L324.40,115.77 L324.90,115.77 L325.40,115.77 L325.90,115.77 L326.40,115.77 L326.90,115.77 L327.40,115.77 L327.90,115.77 L328.40,115.77 L328.90,115.77 L329.40,115.77 L329.90,115.77 L330.40,115.77 L330.90,115.77 L331.40,115.77 L331.90,115.77 L332.40,115.77 L332.90,115.77 L333.40,115.77 L333.90,115.77 L334.40,115.77 L334.90,115.77 L335.40,115.77 L335.90,115.77 L336.40,115.77 L336.90,115.77 L337.40,115.77 L337.90,115.77 L338.40,115.77 L338.90,115.77 L339.40,115.77 L339.90,115.77 L340.40,115.77 L340.90,115.77 L341.40,115.77 L341.90,115.77 L342.40,115.77 L342.90,115.77 L343.40,115.77 L343.90,115.77 L344.40,115.77 L344.90,115.77 L345.40,115.77 L345.90,115.77 L346.40,115.77 L346.90,115.77 L347.40,115.77 L347.90,115.77 L348.40,115.77 L348.90,115.77 L349.40,115.77 L349.90,115.77 L350.40,115.77 L350.90,115.77 L351.40,115.77 L351.90,115.77 L352.40,115.77 L352.90,115.77 L353.40,115.77 L353.90,115.77 L354.40,115.77 L354.90,115.77 L355.40,115.77 L355.90,115.77 L356.40,115.77 L356.90,115.77 L357.40,115.77 L357.90,115.77 L358.40,115.77 L358.90,115.77 L359.40,115.77 L359.90,115.77 L360.40,115.77 L360.90,115.77 L361.40,115.77 L361.90,115.77 L362.40,115.77 L362.90,115.77 L363.40,115.77 L363.90,115.77 L364.40,115.77 L364.90,115.77 L365.40,115.77 L365.90,115.77 L366.40,115.77 L366.90,115.77 L367.40,115.77 L367.90,115.77 L368.40,115.77 L368.90,115.77 L369.40,115.77 L369.90,115.77 L370.40,115.76 L370.90,115.76 L371.40,115.76 L371.90,115.76 L372.40,115.76 L372.90,115.76 L373.40,115.76 L373.90,115.76 L374.40,115.76 L374.90,115.76 L375.40,115.76 L375.90,115.76 L376.40,115.76 L376.90,115.76 L377.40,115.76 L377.90,115.76 L378.40,115.76 L378.90,115.76 L379.40,115.76 L379.90,115.76 L380.40,115.76 L380.90,115.76 L381.40,115.76 L381.90,115.76 L382.40,115.76 L382.90,115.76 L383.40,115.76 L383.90,115.76 L384.40,115.76 L384.90,115.76 L385.40,115.76 L385.90,115.76 L386.40,115.76 L386.90,115.76 L387.40,115.76 L387.90,115.76 L388.40,115.76 L388.90,115.76 L389.40,115.76 L389.90,115.76 L390.40,115.76 L390.90,115.76 L391.40,115.75 L391.90,115.75 L392.40,115.75 L392.90,115.75 L393.40,115.75 L393.90,115.75 L394.40,115.75 L394.90,115.75 L395.40,115.75 L395.90,115.75 L396.40,115.75 L396.90,115.75 L397.40,115.75 L397.90,115.75 L398.40,115.75 L398.90,115.74 L399.40,115.74 L399.90,115.74 L400.40,115.74 L400.90,115.74 L401.40,115.74 L401.90,115.74 L402.40,115.74 L402.90,115.74 L403.40,115.74 L403.90,115.73 L404.40,115.73 L404.90,115.73 L405.40,115.73 L405.90,115.73 L406.40,115.73 L406.90,115.73 L407.40,115.72 L407.90,115.72 L408.40,115.72 L408.90,115.72 L409.40,115.72 L409.90,115.72 L410.40,115.71 L410.90,115.71 L411.40,115.71 L411.90,115.71 L412.40,115.70 L412.90,115.70 L413.40,115.70 L413.90,115.70 L414.40,115.69 L414.90,115.69 L415.40,115.69 L415.90,115.69 L416.40,115.68 L416.90,115.68 L417.40,115.68 L417.90,115.67 L418.40,115.67 L418.90,115.66 L419.40,115.66 L419.90,115.66 L420.40,115.65 L420.90,115.65 L421.40,115.64 L421.90,115.64 L422.40,115.63 L422.90,115.63 L423.40,115.62 L423.90,115.62 L424.40,115.61 L424.90,115.61 L425.40,115.60 L425.90,115.59 L426.40,115.59 L426.90,115.58 L427.40,115.57 L427.90,115.57 L428.40,115.56 L428.90,115.55 L429.40,115.54 L429.90,115.53 L430.40,115.52 L430.90,115.51 L431.40,115.51 L431.90,115.50 L432.40,115.49 L432.90,115.47 L433.40,115.46 L433.90,115.45 L434.40,115.44 L434.90,115.43 L435.40,115.41 L435.90,115.40 L436.40,115.39 L436.90,115.37 L437.40,115.36 L437.90,115.34 L438.40,115.33 L438.90,115.31 L439.40,115.29 L439.90,115.28 L440.40,115.26 L440.90,115.24 L441.40,115.22 L441.90,115.20 L442.40,115.18 L442.90,115.15 L443.40,115.13 L443.90,115.11 L444.40,115.08 L444.90,115.06 L445.40,115.03 L445.90,115.00 L446.40,114.97 L446.90,114.94 L447.40,114.91 L447.90,114.88 L448.40,114.85 L448.90,114.82 L449.40,114.78 L449.90,114.74 L450.40,114.71 L450.90,114.67 L451.40,114.63 L451.90,114.58 L452.40,114.54 L452.90,114.50 L453.40,114.45 L453.90,114.40 L454.40,114.35 L454.90,114.30 L455.40,114.25 L455.90,114.19 L456.40,114.14 L456.90,114.08 L457.40,114.02 L457.90,113.95 L458.40,113.89 L458.90,113.82 L459.40,113.75 L459.90,113.68 L460.40,113.61 L460.90,113.53 L461.40,113.45 L461.90,113.37 L462.40,113.28 L462.90,113.20 L463.40,113.11 L463.90,113.02 L464.40,112.92 L464.90,112.82 L465.40,112.72 L465.90,112.62 L466.40,112.51 L466.90,112.40 L467.40,112.28 L467.90,112.17 L468.40,112.05 L468.90,111.92 L469.40,111.79 L469.90,111.66 L470.40,111.52 L470.90,111.38 L471.40,111.24 L471.90,111.09 L472.40,110.94 L472.90,110.79 L473.40,110.63 L473.90,110.46 L474.40,110.30 L474.90,110.12 L475.40,109.95 L475.90,109.76 L476.40,109.58 L476.90,109.39 L477.40,109.19 L477.90,108.99 L478.40,108.79 L478.90,108.58 L479.40,108.37 L479.90,108.15 L480.40,107.92 L480.90,107.69 L481.40,107.46 L481.90,107.22 L482.40,106.98 L482.90,106.73 L483.40,106.48 L483.90,106.22 L484.40,105.96 L484.90,105.69 L485.40,105.41 L485.90,105.14 L486.40,104.85 L486.90,104.56 L487.40,104.27 L487.90,103.97 L488.40,103.67 L488.90,103.36 L489.40,103.05 L489.90,102.73 L490.40,102.41 L490.90,102.08 L491.40,101.75 L491.90,101.42 L492.40,101.07 L492.90,100.73 L493.40,100.38 L493.90,100.02 L494.40,99.67 L494.90,99.30 L495.40,98.93 L495.90,98.56 L496.40,98.19 L496.90,97.81 L497.40,97.42 L497.90,97.03 L498.40,96.64 L498.90,96.25 L499.40,95.85 L499.90,95.44 L500.40,95.04 L500.90,94.63 L501.40,94.21 L501.90,93.80 L502.40,93.37 L502.90,92.95 L503.40,92.52 L503.90,92.09 L504.40,91.66 L504.90,91.22 L505.40,90.78 L505.90,90.34 L506.40,89.90 L506.90,89.45 L507.40,89.00 L507.90,88.55 L508.40,88.09 L508.90,87.64 L509.40,87.18 L509.90,86.71 L510.40,86.25 L510.90,85.78 L511.40,85.31 L511.90,84.84 L512.40,84.37 L512.90,83.89 L513.40,83.42 L513.90,82.94 L514.40,82.46 L514.90,81.98 L515.40,81.49 L515.90,81.01 L516.40,80.52 L516.90,80.03 L517.40,79.54 L517.90,79.05 L518.40,78.56 L518.90,78.07 L519.40,77.57 L519.90,77.07 L520.40,76.58 L520.90,76.08 L521.40,75.58 L521.90,75.08 L522.40,74.57 L522.90,74.07 L523.40,73.57 L523.90,73.06 L524.40,72.56 L524.90,72.05 L525.40,71.54 L525.90,71.03 L526.40,70.52 L526.90,70.01 L527.40,69.50 L527.90,68.99 L528.40,68.48 L528.90,67.96 L529.40,67.45 L529.90,66.94 L530.40,66.42 L530.90,65.90 L531.40,65.39 L531.90,64.87 L532.40,64.35 L532.90,63.84 L533.40,63.32 L533.90,62.80 L534.40,62.28 L534.90,61.76 L535.40,61.24 L535.90,60.72 L536.40,60.20 L536.90,59.68 L537.40,59.15 L537.90,58.63 L538.40,58.11 L538.90,57.59 L539.40,57.06 L539.90,56.54 L540.40,56.02 L540.90,55.49 L541.40,54.97 L541.90,54.44 L542.40,53.92 L542.90,53.39 L543.40,52.87" stroke="#14259a" stroke-width="2.2" stroke-dasharray="18.35 4.73" stroke-dashoffset="17.36"/>
<path d="M306.90,115.64 L307.40,115.64 L307.90,115.64 L308.40,115.64 L308.90,115.64 L309.40,115.64 L309.90,115.64 L310.40,115.64 L310.90,115.64 L311.40,115.64 L311.90,115.64 L312.40,115.64 L312.90,115.64 L313.40,115.64 L313.90,115.64 L314.40,115.64 L314.90,115.64 L315.40,115.64 L315.90,115.64 L316.40,115.64 L316.90,115.64 L317.40,115.64 L317.90,115.64 L318.40,115.64 L318.90,115.64 L319.40,115.64 L319.90,115.64 L320.40,115.64 L320.90,115.64 L321.40,115.64 L321.90,115.64 L322.40,115.64 L322.90,115.64 L323.40,115.64 L323.90,115.64 L324.40,115.64 L324.90,115.64 L325.40,115.64 L325.90,115.64 L326.40,115.64 L326.90,115.64 L327.40,115.64 L327.90,115.64 L328.40,115.64 L328.90,115.64 L329.40,115.64 L329.90,115.64 L330.40,115.64 L330.90,115.64 L331.40,115.64 L331.90,115.64 L332.40,115.64 L332.90,115.64 L333.40,115.64 L333.90,115.64 L334.40,115.64 L334.90,115.64 L335.40,115.64 L335.90,115.64 L336.40,115.64 L336.90,115.64 L337.40,115.64 L337.90,115.64 L338.40,115.64 L338.90,115.64 L339.40,115.64 L339.90,115.64 L340.40,115.64 L340.90,115.64 L341.40,115.64 L341.90,115.64 L342.40,115.64 L342.90,115.64 L343.40,115.64 L343.90,115.64 L344.40,115.64 L344.90,115.64 L345.40,115.64 L345.90,115.64 L346.40,115.64 L346.90,115.64 L347.40,115.64 L347.90,115.64 L348.40,115.64 L348.90,115.64 L349.40,115.64 L349.90,115.64 L350.40,115.64 L350.90,115.64 L351.40,115.64 L351.90,115.64 L352.40,115.64 L352.90,115.63 L353.40,115.63 L353.90,115.63 L354.40,115.63 L354.90,115.63 L355.40,115.63 L355.90,115.63 L356.40,115.63 L356.90,115.63 L357.40,115.63 L357.90,115.63 L358.40,115.63 L358.90,115.63 L359.40,115.63 L359.90,115.63 L360.40,115.63 L360.90,115.63 L361.40,115.63 L361.90,115.63 L362.40,115.63 L362.90,115.63 L363.40,115.63 L363.90,115.63 L364.40,115.63 L364.90,115.63 L365.40,115.63 L365.90,115.63 L366.40,115.63 L366.90,115.63 L367.40,115.63 L367.90,115.63 L368.40,115.63 L368.90,115.63 L369.40,115.63 L369.90,115.63 L370.40,115.63 L370.90,115.62 L371.40,115.62 L371.90,115.62 L372.40,115.62 L372.90,115.62 L373.40,115.62 L373.90,115.62 L374.40,115.62 L374.90,115.62 L375.40,115.62 L375.90,115.62 L376.40,115.62 L376.90,115.62 L377.40,115.62 L377.90,115.62 L378.40,115.61 L378.90,115.61 L379.40,115.61 L379.90,115.61 L380.40,115.61 L380.90,115.61 L381.40,115.61 L381.90,115.61 L382.40,115.61 L382.90,115.61 L383.40,115.60 L383.90,115.60 L384.40,115.60 L384.90,115.60 L385.40,115.60 L385.90,115.60 L386.40,115.60 L386.90,115.59 L387.40,115.59 L387.90,115.59 L388.40,115.59 L388.90,115.59 L389.40,115.59 L389.90,115.58 L390.40,115.58 L390.90,115.58 L391.40,115.58 L391.90,115.58 L392.40,115.57 L392.90,115.57 L393.40,115.57 L393.90,115.57 L394.40,115.56 L394.90,115.56 L395.40,115.56 L395.90,115.56 L396.40,115.55 L396.90,115.55 L397.40,115.55 L397.90,115.54 L398.40,115.54 L398.90,115.54 L399.40,115.53 L399.90,115.53 L400.40,115.53 L400.90,115.52 L401.40,115.52 L401.90,115.51 L402.40,115.51 L402.90,115.50 L403.40,115.50 L403.90,115.49 L404.40,115.49 L404.90,115.48 L405.40,115.48 L405.90,115.47 L406.40,115.47 L406.90,115.46 L407.40,115.45 L407.90,115.45 L408.40,115.44 L408.90,115.43 L409.40,115.43 L409.90,115.42 L410.40,115.41 L410.90,115.40 L411.40,115.39 L411.90,115.39 L412.40,115.38 L412.90,115.37 L413.40,115.36 L413.90,115.35 L414.40,115.34 L414.90,115.33 L415.40,115.32 L415.90,115.30 L416.40,115.29 L416.90,115.28 L417.40,115.27 L417.90,115.25 L418.40,115.24 L418.90,115.23 L419.40,115.21 L419.90,115.20 L420.40,115.18 L420.90,115.17 L421.40,115.15 L421.90,115.13 L422.40,115.11 L422.90,115.10 L423.40,115.08 L423.90,115.06 L424.40,115.04 L424.90,115.02 L425.40,114.99 L425.90,114.97 L426.40,114.95 L426.90,114.92 L427.40,114.90 L427.90,114.87 L428.40,114.85 L428.90,114.82 L429.40,114.79 L429.90,114.76 L430.40,114.73 L430.90,114.70 L431.40,114.67 L431.90,114.63 L432.40,114.60 L432.90,114.56 L433.40,114.53 L433.90,114.49 L434.40,114.45 L434.90,114.41 L435.40,114.37 L435.90,114.32 L436.40,114.28 L436.90,114.23 L437.40,114.18 L437.90,114.13 L438.40,114.08 L438.90,114.03 L439.40,113.98 L439.90,113.92 L440.40,113.86 L440.90,113.80 L441.40,113.74 L441.90,113.68 L442.40,113.61 L442.90,113.55 L443.40,113.48 L443.90,113.41 L444.40,113.33 L444.90,113.26 L445.40,113.18 L445.90,113.10 L446.40,113.01 L446.90,112.93 L447.40,112.84 L447.90,112.75 L448.40,112.66 L448.90,112.56 L449.40,112.46 L449.90,112.36 L450.40,112.26 L450.90,112.15 L451.40,112.04 L451.90,111.93 L452.40,111.81 L452.90,111.69 L453.40,111.57 L453.90,111.44 L454.40,111.31 L454.90,111.18 L455.40,111.04 L455.90,110.90 L456.40,110.76 L456.90,110.61 L457.40,110.46 L457.90,110.30 L458.40,110.14 L458.90,109.98 L459.40,109.82 L459.90,109.65 L460.40,109.47 L460.90,109.29 L461.40,109.11 L461.90,108.92 L462.40,108.73 L462.90,108.54 L463.40,108.34 L463.90,108.14 L464.40,107.93 L464.90,107.72 L465.40,107.50 L465.90,107.28 L466.40,107.05 L466.90,106.82 L467.40,106.59 L467.90,106.35 L468.40,106.11 L468.90,105.86 L469.40,105.61 L469.90,105.35 L470.40,105.09 L470.90,104.83 L471.40,104.56 L471.90,104.28 L472.40,104.01 L472.90,103.72 L473.40,103.43 L473.90,103.14 L474.40,102.85 L474.90,102.55 L475.40,102.24 L475.90,101.93 L476.40,101.62 L476.90,101.30 L477.40,100.98 L477.90,100.65 L478.40,100.32 L478.90,99.99 L479.40,99.65 L479.90,99.31 L480.40,98.96 L480.90,98.61 L481.40,98.26 L481.90,97.90 L482.40,97.54 L482.90,97.18 L483.40,96.81 L483.90,96.44 L484.40,96.06 L484.90,95.68 L485.40,95.30 L485.90,94.91 L486.40,94.53 L486.90,94.13 L487.40,93.74 L487.90,93.34 L488.40,92.94 L488.90,92.54 L489.40,92.13 L489.90,91.72 L490.40,91.31 L490.90,90.89 L491.40,90.47 L491.90,90.05 L492.40,89.63 L492.90,89.20 L493.40,88.77 L493.90,88.34 L494.40,87.91 L494.90,87.48 L495.40,87.04 L495.90,86.60 L496.40,86.16 L496.90,85.71 L497.40,85.27 L497.90,84.82 L498.40,84.37 L498.90,83.92 L499.40,83.47 L499.90,83.01 L500.40,82.56 L500.90,82.10 L501.40,81.64 L501.90,81.18 L502.40,80.71 L502.90,80.25 L503.40,79.78 L503.90,79.32 L504.40,78.85 L504.90,78.38 L505.40,77.91 L505.90,77.44 L506.40,76.96 L506.90,76.49 L507.40,76.01 L507.90,75.54 L508.40,75.06 L508.90,74.58 L509.40,74.10 L509.90,73.62 L510.40,73.14 L510.90,72.65 L511.40,72.17 L511.90,71.69 L512.40,71.20 L512.90,70.72 L513.40,70.23 L513.90,69.74 L514.40,69.25 L514.90,68.76 L515.40,68.27 L515.90,67.78 L516.40,67.29 L516.90,66.80 L517.40,66.31 L517.90,65.82 L518.40,65.32 L518.90,64.83 L519.40,64.34 L519.90,63.84 L520.40,63.35 L520.90,62.85 L521.40,62.35 L521.90,61.86 L522.40,61.36 L522.90,60.86 L523.40,60.36 L523.90,59.87 L524.40,59.37 L524.90,58.87 L525.40,58.37 L525.90,57.87 L526.40,57.37 L526.90,56.87 L527.40,56.37 L527.90,55.87 L528.40,55.37 L528.90,54.86 L529.40,54.36 L529.90,53.86 L530.40,53.36 L530.90,52.85 L531.40,52.35 L531.90,51.85 L532.40,51.35 L532.90,50.84 L533.40,50.34 L533.90,49.83 L534.40,49.33 L534.90,48.83 L535.40,48.32 L535.90,47.82 L536.40,47.31 L536.90,46.81 L537.40,46.30 L537.90,45.80 L538.40,45.29 L538.90,44.79 L539.40,44.28 L539.90,43.77 L540.40,43.27 L540.90,42.76 L541.40,42.26 L541.90,41.75 L542.40,41.24 L542.90,40.74 L543.40,40.23" stroke="#6a0f5c" stroke-width="2.2" stroke-dasharray="1.805 3.815 8.62 3.61" stroke-dashoffset="12.02"/>
</g></g>
<rect x="312.9" y="22.4" width="225.00" height="106.30" fill="none" stroke="#000" stroke-width="1.5" stroke-linejoin="round"/>
<line x1="310.00" y1="25.77" x2="312.9" y2="25.77" stroke="#000" stroke-width="1.35"/>
<text transform="translate(301.10,25.77) rotate(-90)" text-anchor="middle" dominant-baseline="central" font-size="8.2" style="stroke-width:0.0px">6</text>
<line x1="310.00" y1="47.77" x2="312.9" y2="47.77" stroke="#000" stroke-width="1.35"/>
<text transform="translate(301.10,47.77) rotate(-90)" text-anchor="middle" dominant-baseline="central" font-size="8.2" style="stroke-width:0.0px">4</text>
<line x1="310.00" y1="69.77" x2="312.9" y2="69.77" stroke="#000" stroke-width="1.35"/>
<text transform="translate(301.10,69.77) rotate(-90)" text-anchor="middle" dominant-baseline="central" font-size="8.2" style="stroke-width:0.0px">2</text>
<line x1="310.00" y1="91.77" x2="312.9" y2="91.77" stroke="#000" stroke-width="1.35"/>
<text transform="translate(301.10,91.77) rotate(-90)" text-anchor="middle" dominant-baseline="central" font-size="8.2" style="stroke-width:0.0px">0</text>
<line x1="310.00" y1="113.77" x2="312.9" y2="113.77" stroke="#000" stroke-width="1.35"/>
<text transform="translate(301.10,113.77) rotate(-90)" text-anchor="middle" dominant-baseline="central" font-size="8.2" style="stroke-width:0.0px">-2</text>
<line x1="321" y1="128.7" x2="321" y2="131.30" stroke="#000" stroke-width="1.35"/>
<text transform="translate(320.20,142.60) scale(1,1.1)" text-anchor="middle" font-size="6.2" style="stroke-width:0.05px">4</text>
<line x1="347.3" y1="128.7" x2="347.3" y2="131.30" stroke="#000" stroke-width="1.35"/>
<text transform="translate(338.90,142.60) scale(1,1.1)" text-anchor="middle" font-size="6.2" style="stroke-width:0.05px">1</text>
<text transform="translate(348.90,142.60) scale(1,1.1)" text-anchor="middle" font-size="6.2" style="stroke-width:0.05px">6</text>
<line x1="373.6" y1="128.7" x2="373.6" y2="131.30" stroke="#000" stroke-width="1.35"/>
<text transform="translate(365.10,142.60) scale(1,1.1)" text-anchor="middle" font-size="6.2" style="stroke-width:0.05px">6</text>
<text transform="translate(374.90,142.60) scale(1,1.1)" text-anchor="middle" font-size="6.2" style="stroke-width:0.05px">4</text>
<line x1="399.7" y1="128.7" x2="399.7" y2="131.30" stroke="#000" stroke-width="1.35"/>
<text transform="translate(397.20,142.60) scale(1,1.1)" text-anchor="middle" font-size="6.2" style="stroke-width:0.05px">256</text>
<line x1="425.2" y1="128.7" x2="425.2" y2="131.30" stroke="#000" stroke-width="1.35"/>
<text transform="translate(422.90,142.60) scale(1,1.1)" text-anchor="middle" font-size="6.2" style="stroke-width:0.05px">1024</text>
<line x1="451.3" y1="128.7" x2="451.3" y2="131.30" stroke="#000" stroke-width="1.35"/>
<line x1="477.4" y1="128.7" x2="477.4" y2="131.30" stroke="#000" stroke-width="1.35"/>
<text transform="translate(475.20,142.60) scale(1,1.1)" text-anchor="middle" font-size="6.2" style="stroke-width:0.05px">4096</text>
<line x1="503.5" y1="128.7" x2="503.5" y2="131.30" stroke="#000" stroke-width="1.35"/>
<line x1="529.7" y1="128.7" x2="529.7" y2="131.30" stroke="#000" stroke-width="1.35"/>
<text transform="translate(527.00,142.60) scale(1,1.1)" text-anchor="middle" font-size="6.2" style="stroke-width:0.05px">16384</text>
<text transform="translate(422.40,156.90) scale(1,1.1)" text-anchor="middle" font-size="6.55" style="stroke-width:0.05px">mu-hat</text>
<text transform="translate(284.20,73.50) rotate(-90)" text-anchor="middle" dominant-baseline="central" font-size="8.2" style="stroke-width:0.0px">error</text>
<text transform="translate(325.5,8.35) scale(1,1.07)" font-size="9.8" style="stroke-width:0.05px" textLength="166.6" lengthAdjust="spacingAndGlyphs">m = 512, B = 64; pm = 512, mm = 478</text>
<line x1="338.3" y1="38.4" x2="359.1" y2="38.4" stroke="#000000" stroke-width="1.5"/>
<text x="369.4" y="41.70" font-size="6.6" style="stroke-width:0.1px">true</text>
<line x1="338.3" y1="46.1" x2="359.1" y2="46.1" stroke="#182a88" stroke-width="1.5" stroke-dasharray="9.3 2.4" stroke-dashoffset="0"/>
<text x="369.4" y="49.40" font-size="6.6" style="stroke-width:0.1px">plier</text>
<line x1="338.3" y1="53.8" x2="359.1" y2="53.8" stroke="#6a0f5c" stroke-width="1.5" stroke-dasharray="0.9 1.9 4.3 1.8" stroke-dashoffset="0"/>
<text x="369.4" y="57.10" font-size="6.6" style="stroke-width:0.1px">plier-bc</text>
<line x1="338.3" y1="61.2" x2="359.1" y2="61.2" stroke="#36a031" stroke-width="1.5" stroke-dasharray="4.7 2.25 0.9 1.2 0.9 1.1 0.9 2.05" stroke-dashoffset="-2.45"/>
<text x="369.4" y="64.50" font-size="6.6" style="stroke-width:0.1px">mas5</text>
<line x1="33.4" y1="270.4" x2="258.8" y2="270.4" stroke="#6f776f" stroke-width="1.1"/>
<g clip-path="url(#c3)"><g transform="scale(1,0.8)" fill="none" stroke-linejoin="round">
<path d="M27.40,368.52 L27.90,368.52 L28.40,368.51 L28.90,368.50 L29.40,368.50 L29.90,368.49 L30.40,368.48 L30.90,368.47 L31.40,368.47 L31.90,368.46 L32.40,368.45 L32.90,368.44 L33.40,368.43 L33.90,368.43 L34.40,368.42 L34.90,368.41 L35.40,368.40 L35.90,368.39 L36.40,368.38 L36.90,368.37 L37.40,368.36 L37.90,368.35 L38.40,368.34 L38.90,368.33 L39.40,368.32 L39.90,368.31 L40.40,368.29 L40.90,368.28 L41.40,368.27 L41.90,368.26 L42.40,368.25 L42.90,368.23 L43.40,368.22 L43.90,368.21 L44.40,368.19 L44.90,368.18 L45.40,368.17 L45.90,368.15 L46.40,368.14 L46.90,368.12 L47.40,368.11 L47.90,368.09 L48.40,368.07 L48.90,368.06 L49.40,368.04 L49.90,368.02 L50.40,368.01 L50.90,367.99 L51.40,367.97 L51.90,367.95 L52.40,367.93 L52.90,367.91 L53.40,367.89 L53.90,367.87 L54.40,367.85 L54.90,367.83 L55.40,367.81 L55.90,367.79 L56.40,367.77 L56.90,367.74 L57.40,367.72 L57.90,367.70 L58.40,367.67 L58.90,367.65 L59.40,367.62 L59.90,367.59 L60.40,367.57 L60.90,367.54 L61.40,367.51 L61.90,367.48 L62.40,367.45 L62.90,367.43 L63.40,367.39 L63.90,367.36 L64.40,367.33 L64.90,367.30 L65.40,367.27 L65.90,367.23 L66.40,367.20 L66.90,367.16 L67.40,367.13 L67.90,367.09 L68.40,367.05 L68.90,367.02 L69.40,366.98 L69.90,366.94 L70.40,366.90 L70.90,366.86 L71.40,366.81 L71.90,366.77 L72.40,366.73 L72.90,366.68 L73.40,366.64 L73.90,366.59 L74.40,366.54 L74.90,366.49 L75.40,366.44 L75.90,366.39 L76.40,366.34 L76.90,366.29 L77.40,366.23 L77.90,366.18 L78.40,366.12 L78.90,366.07 L79.40,366.01 L79.90,365.95 L80.40,365.89 L80.90,365.83 L81.40,365.76 L81.90,365.70 L82.40,365.63 L82.90,365.56 L83.40,365.50 L83.90,365.43 L84.40,365.35 L84.90,365.28 L85.40,365.21 L85.90,365.13 L86.40,365.06 L86.90,364.98 L87.40,364.90 L87.90,364.81 L88.40,364.73 L88.90,364.65 L89.40,364.56 L89.90,364.47 L90.40,364.38 L90.90,364.29 L91.40,364.20 L91.90,364.10 L92.40,364.00 L92.90,363.90 L93.40,363.80 L93.90,363.70 L94.40,363.60 L94.90,363.49 L95.40,363.38 L95.90,363.27 L96.40,363.16 L96.90,363.04 L97.40,362.92 L97.90,362.81 L98.40,362.68 L98.90,362.56 L99.40,362.43 L99.90,362.31 L100.40,362.18 L100.90,362.04 L101.40,361.91 L101.90,361.77 L102.40,361.63 L102.90,361.49 L103.40,361.34 L103.90,361.19 L104.40,361.04 L104.90,360.89 L105.40,360.73 L105.90,360.58 L106.40,360.41 L106.90,360.25 L107.40,360.08 L107.90,359.91 L108.40,359.74 L108.90,359.57 L109.40,359.39 L109.90,359.21 L110.40,359.02 L110.90,358.84 L111.40,358.65 L111.90,358.45 L112.40,358.26 L112.90,358.06 L113.40,357.85 L113.90,357.65 L114.40,357.44 L114.90,357.22 L115.40,357.01 L115.90,356.79 L116.40,356.57 L116.90,356.34 L117.40,356.11 L117.90,355.88 L118.40,355.64 L118.90,355.40 L119.40,355.16 L119.90,354.91 L120.40,354.66 L120.90,354.41 L121.40,354.15 L121.90,353.89 L122.40,353.62 L122.90,353.35 L123.40,353.08 L123.90,352.80 L124.40,352.52 L124.90,352.24 L125.40,351.95 L125.90,351.66 L126.40,351.36 L126.90,351.07 L127.40,350.76 L127.90,350.46 L128.40,350.14 L128.90,349.83 L129.40,349.51 L129.90,349.19 L130.40,348.86 L130.90,348.53 L131.40,348.20 L131.90,347.86 L132.40,347.52 L132.90,347.17 L133.40,346.82 L133.90,346.47 L134.40,346.11 L134.90,345.75 L135.40,345.38 L135.90,345.01 L136.40,344.64 L136.90,344.26 L137.40,343.88 L137.90,343.50 L138.40,343.11 L138.90,342.72 L139.40,342.32 L139.90,341.92 L140.40,341.52 L140.90,341.11 L141.40,340.70 L141.90,340.28 L142.40,339.86 L142.90,339.44 L143.40,339.01 L143.90,338.58 L144.40,338.15 L144.90,337.71 L145.40,337.27 L145.90,336.82 L146.40,336.38 L146.90,335.93 L147.40,335.47 L147.90,335.01 L148.40,334.55 L148.90,334.08 L149.40,333.62 L149.90,333.14 L150.40,332.67 L150.90,332.19 L151.40,331.71 L151.90,331.23 L152.40,330.74 L152.90,330.25 L153.40,329.75 L153.90,329.26 L154.40,328.76 L154.90,328.26 L155.40,327.75 L155.90,327.24 L156.40,326.73 L156.90,326.22 L157.40,325.71 L157.90,325.19 L158.40,324.67 L158.90,324.14 L159.40,323.62 L159.90,323.09 L160.40,322.56 L160.90,322.03 L161.40,321.49 L161.90,320.96 L162.40,320.42 L162.90,319.88 L163.40,319.34 L163.90,318.79 L164.40,318.25 L164.90,317.70 L165.40,317.15 L165.90,316.60 L166.40,316.05 L166.90,315.49 L167.40,314.94 L167.90,314.38 L168.40,313.83 L168.90,313.27 L169.40,312.71 L169.90,312.15 L170.40,311.58 L170.90,311.02 L171.40,310.46 L171.90,309.89 L172.40,309.33 L172.90,308.76 L173.40,308.19 L173.90,307.63 L174.40,307.06 L174.90,306.49 L175.40,305.92 L175.90,305.35 L176.40,304.78 L176.90,304.22 L177.40,303.65 L177.90,303.08 L178.40,302.51 L178.90,301.94 L179.40,301.37 L179.90,300.80 L180.40,300.24 L180.90,299.67 L181.40,299.10 L181.90,298.54 L182.40,297.97 L182.90,297.41 L183.40,296.85 L183.90,296.28 L184.40,295.72 L184.90,295.16 L185.40,294.60 L185.90,294.04 L186.40,293.49 L186.90,292.93 L187.40,292.38 L187.90,291.83 L188.40,291.27 L188.90,290.73 L189.40,290.18 L189.90,289.63 L190.40,289.09 L190.90,288.55 L191.40,288.01 L191.90,287.47 L192.40,286.94 L192.90,286.40 L193.40,285.87 L193.90,285.34 L194.40,284.82 L194.90,284.29 L195.40,283.77 L195.90,283.26 L196.40,282.74 L196.90,282.23 L197.40,281.72 L197.90,281.21 L198.40,280.71 L198.90,280.21 L199.40,279.71 L199.90,279.22 L200.40,278.72 L200.90,278.24 L201.40,277.75 L201.90,277.27 L202.40,276.79 L202.90,276.32 L203.40,275.85 L203.90,275.38 L204.40,274.92 L204.90,274.46 L205.40,274.01 L205.90,273.56 L206.40,273.11 L206.90,272.67 L207.40,272.23 L207.90,271.79 L208.40,271.36 L208.90,270.93 L209.40,270.51 L209.90,270.09 L210.40,269.68 L210.90,269.27 L211.40,268.86 L211.90,268.46 L212.40,268.07 L212.90,267.68 L213.40,267.29 L213.90,266.91 L214.40,266.53 L214.90,266.15 L215.40,265.79 L215.90,265.42 L216.40,265.06 L216.90,264.71 L217.40,264.36 L217.90,264.01 L218.40,263.67 L218.90,263.33 L219.40,263.00 L219.90,262.68 L220.40,262.35 L220.90,262.04 L221.40,261.72 L221.90,261.42 L222.40,261.11 L222.90,260.82 L223.40,260.52 L223.90,260.23 L224.40,259.95 L224.90,259.67 L225.40,259.40 L225.90,259.13 L226.40,258.86 L226.90,258.60 L227.40,258.35 L227.90,258.10 L228.40,257.85 L228.90,257.61 L229.40,257.37 L229.90,257.14 L230.40,256.91 L230.90,256.69 L231.40,256.47 L231.90,256.26 L232.40,256.05 L232.90,255.84 L233.40,255.64 L233.90,255.45 L234.40,255.25 L234.90,255.07 L235.40,254.88 L235.90,254.70 L236.40,254.53 L236.90,254.36 L237.40,254.19 L237.90,254.03 L238.40,253.87 L238.90,253.71 L239.40,253.56 L239.90,253.42 L240.40,253.27 L240.90,253.13 L241.40,253.00 L241.90,252.87 L242.40,252.74 L242.90,252.61 L243.40,252.49 L243.90,252.38 L244.40,252.26 L244.90,252.15 L245.40,252.04 L245.90,251.94 L246.40,251.84 L246.90,251.74 L247.40,251.65 L247.90,251.56 L248.40,251.47 L248.90,251.39 L249.40,251.31 L249.90,251.23 L250.40,251.15 L250.90,251.08 L251.40,251.01 L251.90,250.95 L252.40,250.88 L252.90,250.82 L253.40,250.76 L253.90,250.71 L254.40,250.65 L254.90,250.60 L255.40,250.56 L255.90,250.51 L256.40,250.47 L256.90,250.43 L257.40,250.39 L257.90,250.35 L258.40,250.32 L258.90,250.29 L259.40,250.26 L259.90,250.23 L260.40,250.21 L260.90,250.18 L261.40,250.16 L261.90,250.14 L262.40,250.13 L262.90,250.11 L263.40,250.10 L263.90,250.09 L264.40,250.08" stroke="#000000" stroke-width="2.15"/>
<path d="M27.40,353.22 L27.90,353.22 L28.40,353.22 L28.90,353.22 L29.40,353.22 L29.90,353.22 L30.40,353.22 L30.90,353.22 L31.40,353.22 L31.90,353.22 L32.40,353.22 L32.90,353.22 L33.40,353.22 L33.90,353.22 L34.40,353.22 L34.90,353.22 L35.40,353.22 L35.90,353.21 L36.40,353.21 L36.90,353.21 L37.40,353.21 L37.90,353.21 L38.40,353.21 L38.90,353.21 L39.40,353.21 L39.90,353.21 L40.40,353.21 L40.90,353.21 L41.40,353.21 L41.90,353.21 L42.40,353.21 L42.90,353.21 L43.40,353.20 L43.90,353.20 L44.40,353.20 L44.90,353.20 L45.40,353.20 L45.90,353.20 L46.40,353.20 L46.90,353.20 L47.40,353.20 L47.90,353.20 L48.40,353.19 L48.90,353.19 L49.40,353.19 L49.90,353.19 L50.40,353.19 L50.90,353.19 L51.40,353.19 L51.90,353.18 L52.40,353.18 L52.90,353.18 L53.40,353.18 L53.90,353.18 L54.40,353.18 L54.90,353.17 L55.40,353.17 L55.90,353.17 L56.40,353.17 L56.90,353.17 L57.40,353.16 L57.90,353.16 L58.40,353.16 L58.90,353.16 L59.40,353.15 L59.90,353.15 L60.40,353.15 L60.90,353.15 L61.40,353.14 L61.90,353.14 L62.40,353.14 L62.90,353.14 L63.40,353.13 L63.90,353.13 L64.40,353.12 L64.90,353.12 L65.40,353.12 L65.90,353.11 L66.40,353.11 L66.90,353.11 L67.40,353.10 L67.90,353.10 L68.40,353.09 L68.90,353.09 L69.40,353.08 L69.90,353.08 L70.40,353.07 L70.90,353.07 L71.40,353.06 L71.90,353.06 L72.40,353.05 L72.90,353.04 L73.40,353.04 L73.90,353.03 L74.40,353.03 L74.90,353.02 L75.40,353.01 L75.90,353.00 L76.40,353.00 L76.90,352.99 L77.40,352.98 L77.90,352.97 L78.40,352.96 L78.90,352.95 L79.40,352.95 L79.90,352.94 L80.40,352.93 L80.90,352.92 L81.40,352.90 L81.90,352.89 L82.40,352.88 L82.90,352.87 L83.40,352.86 L83.90,352.85 L84.40,352.83 L84.90,352.82 L85.40,352.81 L85.90,352.79 L86.40,352.78 L86.90,352.76 L87.40,352.75 L87.90,352.73 L88.40,352.71 L88.90,352.70 L89.40,352.68 L89.90,352.66 L90.40,352.64 L90.90,352.62 L91.40,352.60 L91.90,352.58 L92.40,352.56 L92.90,352.54 L93.40,352.51 L93.90,352.49 L94.40,352.47 L94.90,352.44 L95.40,352.41 L95.90,352.39 L96.40,352.36 L96.90,352.33 L97.40,352.30 L97.90,352.27 L98.40,352.24 L98.90,352.21 L99.40,352.17 L99.90,352.14 L100.40,352.10 L100.90,352.06 L101.40,352.03 L101.90,351.99 L102.40,351.95 L102.90,351.90 L103.40,351.86 L103.90,351.82 L104.40,351.77 L104.90,351.72 L105.40,351.67 L105.90,351.62 L106.40,351.57 L106.90,351.52 L107.40,351.46 L107.90,351.40 L108.40,351.35 L108.90,351.28 L109.40,351.22 L109.90,351.16 L110.40,351.09 L110.90,351.02 L111.40,350.95 L111.90,350.88 L112.40,350.81 L112.90,350.73 L113.40,350.65 L113.90,350.57 L114.40,350.49 L114.90,350.40 L115.40,350.31 L115.90,350.22 L116.40,350.13 L116.90,350.03 L117.40,349.93 L117.90,349.83 L118.40,349.72 L118.90,349.62 L119.40,349.51 L119.90,349.39 L120.40,349.27 L120.90,349.15 L121.40,349.03 L121.90,348.90 L122.40,348.77 L122.90,348.64 L123.40,348.50 L123.90,348.36 L124.40,348.22 L124.90,348.07 L125.40,347.92 L125.90,347.76 L126.40,347.60 L126.90,347.44 L127.40,347.27 L127.90,347.10 L128.40,346.93 L128.90,346.75 L129.40,346.56 L129.90,346.37 L130.40,346.18 L130.90,345.98 L131.40,345.78 L131.90,345.58 L132.40,345.37 L132.90,345.15 L133.40,344.93 L133.90,344.71 L134.40,344.48 L134.90,344.24 L135.40,344.00 L135.90,343.76 L136.40,343.51 L136.90,343.26 L137.40,343.00 L137.90,342.73 L138.40,342.47 L138.90,342.19 L139.40,341.91 L139.90,341.63 L140.40,341.34 L140.90,341.05 L141.40,340.75 L141.90,340.44 L142.40,340.13 L142.90,339.82 L143.40,339.50 L143.90,339.17 L144.40,338.84 L144.90,338.51 L145.40,338.17 L145.90,337.83 L146.40,337.48 L146.90,337.12 L147.40,336.76 L147.90,336.40 L148.40,336.03 L148.90,335.65 L149.40,335.27 L149.90,334.89 L150.40,334.50 L150.90,334.11 L151.40,333.71 L151.90,333.31 L152.40,332.90 L152.90,332.49 L153.40,332.07 L153.90,331.65 L154.40,331.23 L154.90,330.80 L155.40,330.36 L155.90,329.93 L156.40,329.49 L156.90,329.04 L157.40,328.59 L157.90,328.14 L158.40,327.68 L158.90,327.22 L159.40,326.75 L159.90,326.28 L160.40,325.81 L160.90,325.34 L161.40,324.86 L161.90,324.37 L162.40,323.89 L162.90,323.40 L163.40,322.91 L163.90,322.41 L164.40,321.91 L164.90,321.41 L165.40,320.90 L165.90,320.40 L166.40,319.88 L166.90,319.37 L167.40,318.86 L167.90,318.34 L168.40,317.82 L168.90,317.29 L169.40,316.76 L169.90,316.24 L170.40,315.70 L170.90,315.17 L171.40,314.64 L171.90,314.10 L172.40,313.56 L172.90,313.02 L173.40,312.47 L173.90,311.93 L174.40,311.38 L174.90,310.83 L175.40,310.28 L175.90,309.72 L176.40,309.17 L176.90,308.61 L177.40,308.05 L177.90,307.49 L178.40,306.93 L178.90,306.37 L179.40,305.80 L179.90,305.24 L180.40,304.67 L180.90,304.10 L181.40,303.53 L181.90,302.96 L182.40,302.39 L182.90,301.81 L183.40,301.24 L183.90,300.66 L184.40,300.08 L184.90,299.51 L185.40,298.93 L185.90,298.35 L186.40,297.76 L186.90,297.18 L187.40,296.60 L187.90,296.02 L188.40,295.43 L188.90,294.84 L189.40,294.26 L189.90,293.67 L190.40,293.08 L190.90,292.49 L191.40,291.90 L191.90,291.31 L192.40,290.72 L192.90,290.13 L193.40,289.54 L193.90,288.95 L194.40,288.35 L194.90,287.76 L195.40,287.16 L195.90,286.57 L196.40,285.97 L196.90,285.38 L197.40,284.78 L197.90,284.18 L198.40,283.59 L198.90,282.99 L199.40,282.39 L199.90,281.79 L200.40,281.19 L200.90,280.59 L201.40,279.99 L201.90,279.39 L202.40,278.79 L202.90,278.19 L203.40,277.59 L203.90,276.99 L204.40,276.38 L204.90,275.78 L205.40,275.18 L205.90,274.58 L206.40,273.97 L206.90,273.37 L207.40,272.77 L207.90,272.16 L208.40,271.56 L208.90,270.95 L209.40,270.35 L209.90,269.74 L210.40,269.14 L210.90,268.53 L211.40,267.93 L211.90,267.32 L212.40,266.71 L212.90,266.11 L213.40,265.50 L213.90,264.90 L214.40,264.29 L214.90,263.68 L215.40,263.08 L215.90,262.47 L216.40,261.86 L216.90,261.25 L217.40,260.65 L217.90,260.04 L218.40,259.43 L218.90,258.82 L219.40,258.21 L219.90,257.61 L220.40,257.00 L220.90,256.39 L221.40,255.78 L221.90,255.17 L222.40,254.56 L222.90,253.95 L223.40,253.35 L223.90,252.74 L224.40,252.13 L224.90,251.52 L225.40,250.91 L225.90,250.30 L226.40,249.69 L226.90,249.08 L227.40,248.47 L227.90,247.86 L228.40,247.25 L228.90,246.64 L229.40,246.03 L229.90,245.42 L230.40,244.81 L230.90,244.20 L231.40,243.59 L231.90,242.98 L232.40,242.37 L232.90,241.76 L233.40,241.15 L233.90,240.54 L234.40,239.93 L234.90,239.32 L235.40,238.71 L235.90,238.10 L236.40,237.49 L236.90,236.88 L237.40,236.27 L237.90,235.66 L238.40,235.05 L238.90,234.44 L239.40,233.83 L239.90,233.22 L240.40,232.61 L240.90,232.00 L241.40,231.38 L241.90,230.77 L242.40,230.16 L242.90,229.55 L243.40,228.94 L243.90,228.33 L244.40,227.72 L244.90,227.11 L245.40,226.50 L245.90,225.89 L246.40,225.28 L246.90,224.66 L247.40,224.05 L247.90,223.44 L248.40,222.83 L248.90,222.22 L249.40,221.61 L249.90,221.00 L250.40,220.39 L250.90,219.78 L251.40,219.16 L251.90,218.55 L252.40,217.94 L252.90,217.33 L253.40,216.72 L253.90,216.11 L254.40,215.50 L254.90,214.89 L255.40,214.27 L255.90,213.66 L256.40,213.05 L256.90,212.44 L257.40,211.83 L257.90,211.22 L258.40,210.61 L258.90,210.00 L259.40,209.38 L259.90,208.77 L260.40,208.16 L260.90,207.55 L261.40,206.94 L261.90,206.33 L262.40,205.72 L262.90,205.10 L263.40,204.49 L263.90,203.88 L264.40,203.27" stroke="#14259a" stroke-width="2.2" stroke-dasharray="18.35 4.73" stroke-dashoffset="17.16"/>
<path d="M27.40,353.60 L27.90,353.60 L28.40,353.60 L28.90,353.60 L29.40,353.60 L29.90,353.60 L30.40,353.59 L30.90,353.59 L31.40,353.59 L31.90,353.59 L32.40,353.59 L32.90,353.59 L33.40,353.59 L33.90,353.59 L34.40,353.59 L34.90,353.59 L35.40,353.59 L35.90,353.59 L36.40,353.59 L36.90,353.59 L37.40,353.59 L37.90,353.59 L38.40,353.59 L38.90,353.59 L39.40,353.59 L39.90,353.58 L40.40,353.58 L40.90,353.58 L41.40,353.58 L41.90,353.58 L42.40,353.58 L42.90,353.58 L43.40,353.58 L43.90,353.58 L44.40,353.58 L44.90,353.58 L45.40,353.58 L45.90,353.57 L46.40,353.57 L46.90,353.57 L47.40,353.57 L47.90,353.57 L48.40,353.57 L48.90,353.57 L49.40,353.57 L49.90,353.57 L50.40,353.56 L50.90,353.56 L51.40,353.56 L51.90,353.56 L52.40,353.56 L52.90,353.56 L53.40,353.55 L53.90,353.55 L54.40,353.55 L54.90,353.55 L55.40,353.55 L55.90,353.55 L56.40,353.54 L56.90,353.54 L57.40,353.54 L57.90,353.54 L58.40,353.53 L58.90,353.53 L59.40,353.53 L59.90,353.53 L60.40,353.52 L60.90,353.52 L61.40,353.52 L61.90,353.52 L62.40,353.51 L62.90,353.51 L63.40,353.51 L63.90,353.50 L64.40,353.50 L64.90,353.50 L65.40,353.49 L65.90,353.49 L66.40,353.48 L66.90,353.48 L67.40,353.48 L67.90,353.47 L68.40,353.47 L68.90,353.46 L69.40,353.46 L69.90,353.45 L70.40,353.45 L70.90,353.44 L71.40,353.44 L71.90,353.43 L72.40,353.43 L72.90,353.42 L73.40,353.41 L73.90,353.41 L74.40,353.40 L74.90,353.39 L75.40,353.39 L75.90,353.38 L76.40,353.37 L76.90,353.36 L77.40,353.36 L77.90,353.35 L78.40,353.34 L78.90,353.33 L79.40,353.32 L79.90,353.31 L80.40,353.30 L80.90,353.29 L81.40,353.28 L81.90,353.27 L82.40,353.26 L82.90,353.25 L83.40,353.23 L83.90,353.22 L84.40,353.21 L84.90,353.20 L85.40,353.18 L85.90,353.17 L86.40,353.15 L86.90,353.14 L87.40,353.12 L87.90,353.11 L88.40,353.09 L88.90,353.07 L89.40,353.05 L89.90,353.04 L90.40,353.02 L90.90,353.00 L91.40,352.98 L91.90,352.96 L92.40,352.93 L92.90,352.91 L93.40,352.89 L93.90,352.86 L94.40,352.84 L94.90,352.82 L95.40,352.79 L95.90,352.76 L96.40,352.73 L96.90,352.71 L97.40,352.68 L97.90,352.64 L98.40,352.61 L98.90,352.58 L99.40,352.55 L99.90,352.51 L100.40,352.48 L100.90,352.44 L101.40,352.40 L101.90,352.36 L102.40,352.32 L102.90,352.28 L103.40,352.24 L103.90,352.19 L104.40,352.14 L104.90,352.10 L105.40,352.05 L105.90,352.00 L106.40,351.95 L106.90,351.89 L107.40,351.84 L107.90,351.78 L108.40,351.72 L108.90,351.66 L109.40,351.60 L109.90,351.53 L110.40,351.47 L110.90,351.40 L111.40,351.33 L111.90,351.26 L112.40,351.18 L112.90,351.10 L113.40,351.03 L113.90,350.94 L114.40,350.86 L114.90,350.77 L115.40,350.69 L115.90,350.60 L116.40,350.50 L116.90,350.40 L117.40,350.31 L117.90,350.20 L118.40,350.10 L118.90,349.99 L119.40,349.88 L119.90,349.77 L120.40,349.65 L120.90,349.53 L121.40,349.41 L121.90,349.28 L122.40,349.15 L122.90,349.02 L123.40,348.88 L123.90,348.74 L124.40,348.59 L124.90,348.45 L125.40,348.29 L125.90,348.14 L126.40,347.98 L126.90,347.82 L127.40,347.65 L127.90,347.48 L128.40,347.30 L128.90,347.12 L129.40,346.94 L129.90,346.75 L130.40,346.56 L130.90,346.36 L131.40,346.16 L131.90,345.95 L132.40,345.74 L132.90,345.53 L133.40,345.31 L133.90,345.08 L134.40,344.85 L134.90,344.62 L135.40,344.38 L135.90,344.13 L136.40,343.89 L136.90,343.63 L137.40,343.37 L137.90,343.11 L138.40,342.84 L138.90,342.57 L139.40,342.29 L139.90,342.00 L140.40,341.71 L140.90,341.42 L141.40,341.12 L141.90,340.82 L142.40,340.51 L142.90,340.19 L143.40,339.87 L143.90,339.55 L144.40,339.22 L144.90,338.89 L145.40,338.55 L145.90,338.20 L146.40,337.85 L146.90,337.50 L147.40,337.14 L147.90,336.77 L148.40,336.40 L148.90,336.03 L149.40,335.65 L149.90,335.27 L150.40,334.88 L150.90,334.48 L151.40,334.09 L151.90,333.68 L152.40,333.28 L152.90,332.86 L153.40,332.45 L153.90,332.03 L154.40,331.60 L154.90,331.17 L155.40,330.74 L155.90,330.30 L156.40,329.86 L156.90,329.41 L157.40,328.97 L157.90,328.51 L158.40,328.05 L158.90,327.59 L159.40,327.13 L159.90,326.66 L160.40,326.19 L160.90,325.71 L161.40,325.23 L161.90,324.75 L162.40,324.26 L162.90,323.77 L163.40,323.28 L163.90,322.78 L164.40,322.29 L164.90,321.78 L165.40,321.28 L165.90,320.77 L166.40,320.26 L166.90,319.75 L167.40,319.23 L167.90,318.71 L168.40,318.19 L168.90,317.67 L169.40,317.14 L169.90,316.61 L170.40,316.08 L170.90,315.55 L171.40,315.01 L171.90,314.47 L172.40,313.93 L172.90,313.39 L173.40,312.85 L173.90,312.30 L174.40,311.75 L174.90,311.20 L175.40,310.65 L175.90,310.10 L176.40,309.54 L176.90,308.99 L177.40,308.43 L177.90,307.87 L178.40,307.31 L178.90,306.74 L179.40,306.18 L179.90,305.61 L180.40,305.04 L180.90,304.47 L181.40,303.90 L181.90,303.33 L182.40,302.76 L182.90,302.19 L183.40,301.61 L183.90,301.04 L184.40,300.46 L184.90,299.88 L185.40,299.30 L185.90,298.72 L186.40,298.14 L186.90,297.56 L187.40,296.97 L187.90,296.39 L188.40,295.81 L188.90,295.22 L189.40,294.63 L189.90,294.05 L190.40,293.46 L190.90,292.87 L191.40,292.28 L191.90,291.69 L192.40,291.10 L192.90,290.51 L193.40,289.91 L193.90,289.32 L194.40,288.73 L194.90,288.13 L195.40,287.54 L195.90,286.94 L196.40,286.35 L196.90,285.75 L197.40,285.16 L197.90,284.56 L198.40,283.96 L198.90,283.36 L199.40,282.76 L199.90,282.17 L200.40,281.57 L200.90,280.97 L201.40,280.37 L201.90,279.77 L202.40,279.17 L202.90,278.56 L203.40,277.96 L203.90,277.36 L204.40,276.76 L204.90,276.16 L205.40,275.55 L205.90,274.95 L206.40,274.35 L206.90,273.74 L207.40,273.14 L207.90,272.54 L208.40,271.93 L208.90,271.33 L209.40,270.72 L209.90,270.12 L210.40,269.51 L210.90,268.91 L211.40,268.30 L211.90,267.70 L212.40,267.09 L212.90,266.48 L213.40,265.88 L213.90,265.27 L214.40,264.66 L214.90,264.06 L215.40,263.45 L215.90,262.84 L216.40,262.24 L216.90,261.63 L217.40,261.02 L217.90,260.41 L218.40,259.81 L218.90,259.20 L219.40,258.59 L219.90,257.98 L220.40,257.37 L220.90,256.76 L221.40,256.16 L221.90,255.55 L222.40,254.94 L222.90,254.33 L223.40,253.72 L223.90,253.11 L224.40,252.50 L224.90,251.89 L225.40,251.28 L225.90,250.68 L226.40,250.07 L226.90,249.46 L227.40,248.85 L227.90,248.24 L228.40,247.63 L228.90,247.02 L229.40,246.41 L229.90,245.80 L230.40,245.19 L230.90,244.58 L231.40,243.97 L231.90,243.36 L232.40,242.75 L232.90,242.14 L233.40,241.53 L233.90,240.92 L234.40,240.31 L234.90,239.70 L235.40,239.09 L235.90,238.48 L236.40,237.87 L236.90,237.26 L237.40,236.64 L237.90,236.03 L238.40,235.42 L238.90,234.81 L239.40,234.20 L239.90,233.59 L240.40,232.98 L240.90,232.37 L241.40,231.76 L241.90,231.15 L242.40,230.54 L242.90,229.93 L243.40,229.32 L243.90,228.71 L244.40,228.09 L244.90,227.48 L245.40,226.87 L245.90,226.26 L246.40,225.65 L246.90,225.04 L247.40,224.43 L247.90,223.82 L248.40,223.21 L248.90,222.59 L249.40,221.98 L249.90,221.37 L250.40,220.76 L250.90,220.15 L251.40,219.54 L251.90,218.93 L252.40,218.32 L252.90,217.71 L253.40,217.09 L253.90,216.48 L254.40,215.87 L254.90,215.26 L255.40,214.65 L255.90,214.04 L256.40,213.43 L256.90,212.82 L257.40,212.20 L257.90,211.59 L258.40,210.98 L258.90,210.37 L259.40,209.76 L259.90,209.15 L260.40,208.54 L260.90,207.92 L261.40,207.31 L261.90,206.70 L262.40,206.09 L262.90,205.48 L263.40,204.87 L263.90,204.26 L264.40,203.64" stroke="#6a0f5c" stroke-width="2.2" stroke-dasharray="1.805 3.815 8.62 3.61" stroke-dashoffset="12.72"/>
<path d="M108.90,385.68 L109.90,384.51 L110.90,383.34 L111.90,382.16 L112.90,380.99 L113.90,379.82 L114.90,378.65 L115.90,377.48 L116.90,376.31 L117.90,375.14 L118.90,373.97 L119.90,372.80 L120.90,371.62 L121.90,370.45 L122.90,369.28 L123.90,368.11 L124.90,366.94 L125.90,365.77 L126.90,364.60 L127.90,363.43 L128.90,362.26 L129.90,361.09 L130.90,359.91 L131.90,358.74 L132.90,357.57 L133.90,356.40 L134.90,355.23 L135.90,354.06 L136.90,352.89 L137.90,351.72 L138.90,350.55 L139.90,349.38 L140.90,348.20 L141.90,347.03 L142.90,345.86 L143.90,344.69 L144.90,343.52 L145.90,342.35 L146.90,341.18 L147.90,340.01 L148.90,338.84 L149.90,337.67 L150.90,336.49 L151.90,335.32 L152.90,334.15 L153.90,332.98 L154.90,331.81 L155.90,330.64 L156.90,329.47 L157.90,328.30 L158.90,327.13 L159.90,325.96 L160.90,324.78 L161.90,323.61 L162.90,322.44 L163.90,321.27 L164.90,320.10 L165.90,318.93 L166.90,317.76 L167.90,316.59 L168.90,315.42 L169.90,314.25 L170.90,313.07 L171.90,311.90 L172.90,310.73 L173.90,309.56 L174.90,308.39 L175.90,307.22 L176.90,306.05 L177.90,304.88 L178.90,303.71 L179.90,302.54 L180.90,301.36 L181.90,300.19 L182.90,299.02 L183.90,297.85 L184.90,296.68 L185.90,295.51 L186.90,294.34 L187.90,293.17 L188.90,292.00 L189.90,290.82 L190.90,289.65 L191.90,288.48 L192.90,287.31 L193.90,286.14 L194.90,284.97 L195.90,283.80 L196.90,282.63 L197.90,281.46 L198.90,280.29 L199.90,279.11 L200.90,277.94 L201.90,276.77 L202.90,275.60 L203.90,274.43 L204.90,273.26 L205.90,272.09 L206.90,270.92 L207.90,269.75 L208.90,268.58 L209.90,267.40 L210.90,266.23 L211.90,265.06 L212.90,263.89 L213.90,262.72 L214.90,261.55 L215.90,260.38 L216.90,259.21 L217.90,258.04 L218.90,256.87 L219.90,255.69 L220.90,254.52 L221.90,253.35 L222.90,252.18 L223.90,251.01 L224.90,249.84 L225.90,248.67 L226.90,247.50 L227.90,246.33 L228.90,245.16 L229.90,243.98 L230.90,242.81 L231.90,241.64 L232.90,240.47 L233.90,239.30 L234.90,238.13 L235.90,236.96 L236.90,235.79 L237.90,234.62 L238.90,233.45 L239.90,232.27 L240.90,231.10 L241.90,229.93" stroke="#36a031" stroke-width="2.2" stroke-dasharray="9.33 4.47 1.79 2.38 1.79 2.18 1.79 4.07" stroke-dashoffset="7.01"/>
</g></g>
<rect x="33.4" y="192.65" width="225.40" height="106.45" fill="none" stroke="#000" stroke-width="1.5" stroke-linejoin="round"/>
<line x1="30.50" y1="196.30" x2="33.4" y2="196.30" stroke="#000" stroke-width="1.35"/>
<text transform="translate(21.60,196.30) rotate(-90)" text-anchor="middle" dominant-baseline="central" font-size="8.2" style="stroke-width:0.0px">6</text>
<line x1="30.50" y1="221.00" x2="33.4" y2="221.00" stroke="#000" stroke-width="1.35"/>
<text transform="translate(21.60,221.00) rotate(-90)" text-anchor="middle" dominant-baseline="central" font-size="8.2" style="stroke-width:0.0px">4</text>
<line x1="30.50" y1="245.70" x2="33.4" y2="245.70" stroke="#000" stroke-width="1.35"/>
<text transform="translate(21.60,245.70) rotate(-90)" text-anchor="middle" dominant-baseline="central" font-size="8.2" style="stroke-width:0.0px">2</text>
<line x1="30.50" y1="270.40" x2="33.4" y2="270.40" stroke="#000" stroke-width="1.35"/>
<text transform="translate(21.60,270.40) rotate(-90)" text-anchor="middle" dominant-baseline="central" font-size="8.2" style="stroke-width:0.0px">0</text>
<line x1="30.50" y1="295.10" x2="33.4" y2="295.10" stroke="#000" stroke-width="1.35"/>
<text transform="translate(21.60,295.10) rotate(-90)" text-anchor="middle" dominant-baseline="central" font-size="8.2" style="stroke-width:0.0px">-2</text>
<line x1="41.5" y1="299.1" x2="41.5" y2="301.70" stroke="#000" stroke-width="1.35"/>
<text transform="translate(41.10,313.00) scale(1,1.1)" text-anchor="middle" font-size="6.2" style="stroke-width:0.05px">1</text>
<line x1="67.7" y1="299.1" x2="67.7" y2="301.70" stroke="#000" stroke-width="1.35"/>
<text transform="translate(61.70,313.00) scale(1,1.1)" text-anchor="middle" font-size="6.2" style="stroke-width:0.05px">4</text>
<line x1="93.6" y1="299.1" x2="93.6" y2="301.70" stroke="#000" stroke-width="1.35"/>
<text transform="translate(92.70,313.00) scale(1,1.1)" text-anchor="middle" font-size="6.2" style="stroke-width:0.05px">16</text>
<line x1="120" y1="299.1" x2="120" y2="301.70" stroke="#000" stroke-width="1.35"/>
<text transform="translate(118.70,313.00) scale(1,1.1)" text-anchor="middle" font-size="6.2" style="stroke-width:0.05px">64</text>
<line x1="146.2" y1="299.1" x2="146.2" y2="301.70" stroke="#000" stroke-width="1.35"/>
<text transform="translate(144.40,313.00) scale(1,1.1)" text-anchor="middle" font-size="6.2" style="stroke-width:0.05px">256</text>
<line x1="172.2" y1="299.1" x2="172.2" y2="301.70" stroke="#000" stroke-width="1.35"/>
<text transform="translate(170.10,313.00) scale(1,1.1)" text-anchor="middle" font-size="6.2" style="stroke-width:0.05px">1024</text>
<line x1="198.3" y1="299.1" x2="198.3" y2="301.70" stroke="#000" stroke-width="1.35"/>
<line x1="224.4" y1="299.1" x2="224.4" y2="301.70" stroke="#000" stroke-width="1.35"/>
<text transform="translate(221.60,313.00) scale(1,1.1)" text-anchor="middle" font-size="6.2" style="stroke-width:0.05px">4096</text>
<line x1="250.4" y1="299.1" x2="250.4" y2="301.70" stroke="#000" stroke-width="1.35"/>
<text transform="translate(142.90,327.30) scale(1,1.1)" text-anchor="middle" font-size="6.55" style="stroke-width:0.05px">mu-hat</text>
<text transform="translate(4.60,243.90) rotate(-90)" text-anchor="middle" dominant-baseline="central" font-size="8.2" style="stroke-width:0.0px">error</text>
<text transform="translate(49.7,178.7) scale(1,1.07)" font-size="9.8" style="stroke-width:0.05px" textLength="161.0" lengthAdjust="spacingAndGlyphs">m = 256, B = 64; pm = 256, mm = 64</text>
<line x1="65.0" y1="209.4" x2="86.2" y2="209.4" stroke="#000000" stroke-width="1.5"/>
<text x="96.6" y="212.70" font-size="6.6" style="stroke-width:0.1px">true</text>
<line x1="65.0" y1="216.9" x2="86.2" y2="216.9" stroke="#182a88" stroke-width="1.5" stroke-dasharray="9.3 2.4" stroke-dashoffset="0"/>
<text x="96.6" y="220.20" font-size="6.6" style="stroke-width:0.1px">plier</text>
<line x1="65.0" y1="224.4" x2="86.2" y2="224.4" stroke="#6a0f5c" stroke-width="1.5" stroke-dasharray="0.9 1.9 4.3 1.8" stroke-dashoffset="0"/>
<text x="96.6" y="227.70" font-size="6.6" style="stroke-width:0.1px">plier-bc</text>
<line x1="65.0" y1="231.8" x2="86.2" y2="231.8" stroke="#36a031" stroke-width="1.5" stroke-dasharray="4.7 2.25 0.9 1.2 0.9 1.1 0.9 2.05" stroke-dashoffset="-2.45"/>
<text x="96.6" y="235.10" font-size="6.6" style="stroke-width:0.1px">mas5</text>
<line x1="312.9" y1="270.4" x2="537.9" y2="270.4" stroke="#6f776f" stroke-width="1.1"/>
<g clip-path="url(#c4)"><g transform="scale(1,0.8)" fill="none" stroke-linejoin="round">
<path d="M306.90,367.61 L307.40,367.60 L307.90,367.59 L308.40,367.58 L308.90,367.57 L309.40,367.56 L309.90,367.55 L310.40,367.53 L310.90,367.52 L311.40,367.51 L311.90,367.50 L312.40,367.49 L312.90,367.47 L313.40,367.46 L313.90,367.45 L314.40,367.43 L314.90,367.42 L315.40,367.41 L315.90,367.39 L316.40,367.38 L316.90,367.36 L317.40,367.35 L317.90,367.33 L318.40,367.32 L318.90,367.30 L319.40,367.29 L319.90,367.27 L320.40,367.25 L320.90,367.24 L321.40,367.22 L321.90,367.20 L322.40,367.19 L322.90,367.17 L323.40,367.15 L323.90,367.13 L324.40,367.11 L324.90,367.09 L325.40,367.07 L325.90,367.05 L326.40,367.03 L326.90,367.01 L327.40,366.99 L327.90,366.97 L328.40,366.95 L328.90,366.93 L329.40,366.91 L329.90,366.88 L330.40,366.86 L330.90,366.84 L331.40,366.81 L331.90,366.79 L332.40,366.77 L332.90,366.74 L333.40,366.72 L333.90,366.69 L334.40,366.66 L334.90,366.64 L335.40,366.61 L335.90,366.58 L336.40,366.55 L336.90,366.53 L337.40,366.50 L337.90,366.47 L338.40,366.44 L338.90,366.41 L339.40,366.38 L339.90,366.34 L340.40,366.31 L340.90,366.28 L341.40,366.25 L341.90,366.21 L342.40,366.18 L342.90,366.14 L343.40,366.11 L343.90,366.07 L344.40,366.04 L344.90,366.00 L345.40,365.96 L345.90,365.92 L346.40,365.88 L346.90,365.84 L347.40,365.80 L347.90,365.76 L348.40,365.72 L348.90,365.68 L349.40,365.63 L349.90,365.59 L350.40,365.55 L350.90,365.50 L351.40,365.45 L351.90,365.41 L352.40,365.36 L352.90,365.31 L353.40,365.26 L353.90,365.21 L354.40,365.16 L354.90,365.11 L355.40,365.06 L355.90,365.00 L356.40,364.95 L356.90,364.89 L357.40,364.84 L357.90,364.78 L358.40,364.72 L358.90,364.66 L359.40,364.60 L359.90,364.54 L360.40,364.48 L360.90,364.42 L361.40,364.36 L361.90,364.29 L362.40,364.22 L362.90,364.16 L363.40,364.09 L363.90,364.02 L364.40,363.95 L364.90,363.88 L365.40,363.81 L365.90,363.73 L366.40,363.66 L366.90,363.58 L367.40,363.50 L367.90,363.43 L368.40,363.35 L368.90,363.26 L369.40,363.18 L369.90,363.10 L370.40,363.01 L370.90,362.93 L371.40,362.84 L371.90,362.75 L372.40,362.66 L372.90,362.57 L373.40,362.47 L373.90,362.38 L374.40,362.28 L374.90,362.18 L375.40,362.08 L375.90,361.98 L376.40,361.88 L376.90,361.77 L377.40,361.67 L377.90,361.56 L378.40,361.45 L378.90,361.34 L379.40,361.23 L379.90,361.11 L380.40,361.00 L380.90,360.88 L381.40,360.76 L381.90,360.64 L382.40,360.51 L382.90,360.39 L383.40,360.26 L383.90,360.13 L384.40,360.00 L384.90,359.86 L385.40,359.73 L385.90,359.59 L386.40,359.45 L386.90,359.31 L387.40,359.16 L387.90,359.02 L388.40,358.87 L388.90,358.72 L389.40,358.57 L389.90,358.41 L390.40,358.25 L390.90,358.09 L391.40,357.93 L391.90,357.77 L392.40,357.60 L392.90,357.43 L393.40,357.26 L393.90,357.08 L394.40,356.91 L394.90,356.73 L395.40,356.55 L395.90,356.36 L396.40,356.17 L396.90,355.98 L397.40,355.79 L397.90,355.59 L398.40,355.40 L398.90,355.19 L399.40,354.99 L399.90,354.78 L400.40,354.57 L400.90,354.36 L401.40,354.14 L401.90,353.92 L402.40,353.70 L402.90,353.48 L403.40,353.25 L403.90,353.02 L404.40,352.78 L404.90,352.55 L405.40,352.31 L405.90,352.06 L406.40,351.81 L406.90,351.56 L407.40,351.31 L407.90,351.05 L408.40,350.79 L408.90,350.53 L409.40,350.26 L409.90,349.99 L410.40,349.71 L410.90,349.43 L411.40,349.15 L411.90,348.87 L412.40,348.58 L412.90,348.28 L413.40,347.99 L413.90,347.69 L414.40,347.38 L414.90,347.08 L415.40,346.77 L415.90,346.45 L416.40,346.13 L416.90,345.81 L417.40,345.48 L417.90,345.15 L418.40,344.82 L418.90,344.48 L419.40,344.13 L419.90,343.79 L420.40,343.44 L420.90,343.08 L421.40,342.73 L421.90,342.36 L422.40,342.00 L422.90,341.63 L423.40,341.25 L423.90,340.87 L424.40,340.49 L424.90,340.10 L425.40,339.71 L425.90,339.32 L426.40,338.92 L426.90,338.51 L427.40,338.11 L427.90,337.70 L428.40,337.28 L428.90,336.86 L429.40,336.44 L429.90,336.01 L430.40,335.58 L430.90,335.14 L431.40,334.70 L431.90,334.26 L432.40,333.81 L432.90,333.36 L433.40,332.90 L433.90,332.44 L434.40,331.98 L434.90,331.51 L435.40,331.04 L435.90,330.56 L436.40,330.08 L436.90,329.60 L437.40,329.11 L437.90,328.62 L438.40,328.12 L438.90,327.62 L439.40,327.12 L439.90,326.62 L440.40,326.11 L440.90,325.59 L441.40,325.08 L441.90,324.56 L442.40,324.03 L442.90,323.51 L443.40,322.98 L443.90,322.45 L444.40,321.91 L444.90,321.37 L445.40,320.83 L445.90,320.28 L446.40,319.74 L446.90,319.19 L447.40,318.63 L447.90,318.08 L448.40,317.52 L448.90,316.96 L449.40,316.39 L449.90,315.83 L450.40,315.26 L450.90,314.69 L451.40,314.12 L451.90,313.54 L452.40,312.97 L452.90,312.39 L453.40,311.81 L453.90,311.23 L454.40,310.65 L454.90,310.06 L455.40,309.48 L455.90,308.89 L456.40,308.31 L456.90,307.72 L457.40,307.13 L457.90,306.54 L458.40,305.95 L458.90,305.36 L459.40,304.77 L459.90,304.18 L460.40,303.59 L460.90,303.00 L461.40,302.41 L461.90,301.82 L462.40,301.23 L462.90,300.64 L463.40,300.05 L463.90,299.46 L464.40,298.88 L464.90,298.29 L465.40,297.71 L465.90,297.12 L466.40,296.54 L466.90,295.96 L467.40,295.38 L467.90,294.80 L468.40,294.23 L468.90,293.65 L469.40,293.08 L469.90,292.51 L470.40,291.95 L470.90,291.38 L471.40,290.82 L471.90,290.26 L472.40,289.71 L472.90,289.15 L473.40,288.60 L473.90,288.05 L474.40,287.51 L474.90,286.97 L475.40,286.43 L475.90,285.90 L476.40,285.37 L476.90,284.84 L477.40,284.32 L477.90,283.80 L478.40,283.28 L478.90,282.77 L479.40,282.26 L479.90,281.76 L480.40,281.26 L480.90,280.77 L481.40,280.28 L481.90,279.79 L482.40,279.31 L482.90,278.84 L483.40,278.36 L483.90,277.90 L484.40,277.43 L484.90,276.98 L485.40,276.52 L485.90,276.08 L486.40,275.63 L486.90,275.19 L487.40,274.76 L487.90,274.33 L488.40,273.91 L488.90,273.49 L489.40,273.08 L489.90,272.67 L490.40,272.26 L490.90,271.86 L491.40,271.47 L491.90,271.08 L492.40,270.70 L492.90,270.32 L493.40,269.95 L493.90,269.58 L494.40,269.21 L494.90,268.85 L495.40,268.50 L495.90,268.15 L496.40,267.81 L496.90,267.47 L497.40,267.13 L497.90,266.80 L498.40,266.48 L498.90,266.16 L499.40,265.84 L499.90,265.53 L500.40,265.22 L500.90,264.92 L501.40,264.62 L501.90,264.33 L502.40,264.04 L502.90,263.76 L503.40,263.48 L503.90,263.20 L504.40,262.93 L504.90,262.66 L505.40,262.40 L505.90,262.14 L506.40,261.88 L506.90,261.63 L507.40,261.38 L507.90,261.14 L508.40,260.90 L508.90,260.66 L509.40,260.43 L509.90,260.20 L510.40,259.97 L510.90,259.75 L511.40,259.53 L511.90,259.31 L512.40,259.10 L512.90,258.89 L513.40,258.68 L513.90,258.48 L514.40,258.27 L514.90,258.08 L515.40,257.88 L515.90,257.69 L516.40,257.50 L516.90,257.31 L517.40,257.12 L517.90,256.94 L518.40,256.76 L518.90,256.58 L519.40,256.41 L519.90,256.23 L520.40,256.06 L520.90,255.89 L521.40,255.73 L521.90,255.56 L522.40,255.40 L522.90,255.24 L523.40,255.08 L523.90,254.92 L524.40,254.77 L524.90,254.61 L525.40,254.46 L525.90,254.31 L526.40,254.16 L526.90,254.01 L527.40,253.87 L527.90,253.72 L528.40,253.58 L528.90,253.44 L529.40,253.30 L529.90,253.16 L530.40,253.02 L530.90,252.88 L531.40,252.75 L531.90,252.61 L532.40,252.48 L532.90,252.34 L533.40,252.21 L533.90,252.08 L534.40,251.95 L534.90,251.82 L535.40,251.69 L535.90,251.56 L536.40,251.43 L536.90,251.31 L537.40,251.18 L537.90,251.06 L538.40,250.93 L538.90,250.81 L539.40,250.68 L539.90,250.56 L540.40,250.44 L540.90,250.32 L541.40,250.19 L541.90,250.07 L542.40,249.95 L542.90,249.83 L543.40,249.71" stroke="#000000" stroke-width="2.15"/>
<path d="M306.90,329.90 L307.40,329.90 L307.90,329.90 L308.40,329.90 L308.90,329.90 L309.40,329.90 L309.90,329.90 L310.40,329.90 L310.90,329.90 L311.40,329.90 L311.90,329.90 L312.40,329.90 L312.90,329.90 L313.40,329.90 L313.90,329.90 L314.40,329.90 L314.90,329.90 L315.40,329.90 L315.90,329.90 L316.40,329.90 L316.90,329.90 L317.40,329.90 L317.90,329.90 L318.40,329.90 L318.90,329.90 L319.40,329.90 L319.90,329.90 L320.40,329.90 L320.90,329.90 L321.40,329.90 L321.90,329.90 L322.40,329.90 L322.90,329.90 L323.40,329.90 L323.90,329.90 L324.40,329.90 L324.90,329.90 L325.40,329.90 L325.90,329.90 L326.40,329.90 L326.90,329.90 L327.40,329.90 L327.90,329.90 L328.40,329.90 L328.90,329.90 L329.40,329.90 L329.90,329.90 L330.40,329.90 L330.90,329.90 L331.40,329.90 L331.90,329.90 L332.40,329.90 L332.90,329.90 L333.40,329.90 L333.90,329.90 L334.40,329.90 L334.90,329.90 L335.40,329.90 L335.90,329.90 L336.40,329.90 L336.90,329.90 L337.40,329.90 L337.90,329.90 L338.40,329.90 L338.90,329.90 L339.40,329.90 L339.90,329.90 L340.40,329.90 L340.90,329.90 L341.40,329.90 L341.90,329.90 L342.40,329.90 L342.90,329.90 L343.40,329.90 L343.90,329.90 L344.40,329.90 L344.90,329.90 L345.40,329.90 L345.90,329.90 L346.40,329.90 L346.90,329.90 L347.40,329.90 L347.90,329.90 L348.40,329.90 L348.90,329.90 L349.40,329.90 L349.90,329.90 L350.40,329.90 L350.90,329.90 L351.40,329.90 L351.90,329.90 L352.40,329.90 L352.90,329.90 L353.40,329.90 L353.90,329.90 L354.40,329.90 L354.90,329.90 L355.40,329.90 L355.90,329.90 L356.40,329.90 L356.90,329.90 L357.40,329.90 L357.90,329.90 L358.40,329.90 L358.90,329.90 L359.40,329.90 L359.90,329.90 L360.40,329.90 L360.90,329.90 L361.40,329.90 L361.90,329.89 L362.40,329.89 L362.90,329.89 L363.40,329.89 L363.90,329.89 L364.40,329.89 L364.90,329.89 L365.40,329.89 L365.90,329.89 L366.40,329.89 L366.90,329.89 L367.40,329.89 L367.90,329.89 L368.40,329.89 L368.90,329.89 L369.40,329.89 L369.90,329.89 L370.40,329.89 L370.90,329.89 L371.40,329.89 L371.90,329.89 L372.40,329.89 L372.90,329.88 L373.40,329.88 L373.90,329.88 L374.40,329.88 L374.90,329.88 L375.40,329.88 L375.90,329.88 L376.40,329.88 L376.90,329.88 L377.40,329.88 L377.90,329.88 L378.40,329.88 L378.90,329.87 L379.40,329.87 L379.90,329.87 L380.40,329.87 L380.90,329.87 L381.40,329.87 L381.90,329.87 L382.40,329.87 L382.90,329.86 L383.40,329.86 L383.90,329.86 L384.40,329.86 L384.90,329.86 L385.40,329.86 L385.90,329.85 L386.40,329.85 L386.90,329.85 L387.40,329.85 L387.90,329.85 L388.40,329.84 L388.90,329.84 L389.40,329.84 L389.90,329.84 L390.40,329.83 L390.90,329.83 L391.40,329.83 L391.90,329.83 L392.40,329.82 L392.90,329.82 L393.40,329.82 L393.90,329.81 L394.40,329.81 L394.90,329.81 L395.40,329.80 L395.90,329.80 L396.40,329.79 L396.90,329.79 L397.40,329.78 L397.90,329.78 L398.40,329.77 L398.90,329.77 L399.40,329.76 L399.90,329.76 L400.40,329.75 L400.90,329.75 L401.40,329.74 L401.90,329.73 L402.40,329.73 L402.90,329.72 L403.40,329.71 L403.90,329.71 L404.40,329.70 L404.90,329.69 L405.40,329.68 L405.90,329.67 L406.40,329.66 L406.90,329.65 L407.40,329.64 L407.90,329.63 L408.40,329.62 L408.90,329.61 L409.40,329.60 L409.90,329.59 L410.40,329.58 L410.90,329.56 L411.40,329.55 L411.90,329.54 L412.40,329.52 L412.90,329.51 L413.40,329.49 L413.90,329.47 L414.40,329.46 L414.90,329.44 L415.40,329.42 L415.90,329.40 L416.40,329.38 L416.90,329.36 L417.40,329.34 L417.90,329.32 L418.40,329.29 L418.90,329.27 L419.40,329.24 L419.90,329.22 L420.40,329.19 L420.90,329.16 L421.40,329.13 L421.90,329.10 L422.40,329.07 L422.90,329.04 L423.40,329.01 L423.90,328.97 L424.40,328.93 L424.90,328.90 L425.40,328.86 L425.90,328.82 L426.40,328.77 L426.90,328.73 L427.40,328.69 L427.90,328.64 L428.40,328.59 L428.90,328.54 L429.40,328.49 L429.90,328.43 L430.40,328.38 L430.90,328.32 L431.40,328.26 L431.90,328.19 L432.40,328.13 L432.90,328.06 L433.40,327.99 L433.90,327.92 L434.40,327.84 L434.90,327.77 L435.40,327.69 L435.90,327.60 L436.40,327.52 L436.90,327.43 L437.40,327.34 L437.90,327.24 L438.40,327.15 L438.90,327.04 L439.40,326.94 L439.90,326.83 L440.40,326.72 L440.90,326.60 L441.40,326.48 L441.90,326.36 L442.40,326.24 L442.90,326.10 L443.40,325.97 L443.90,325.83 L444.40,325.69 L444.90,325.54 L445.40,325.39 L445.90,325.23 L446.40,325.07 L446.90,324.90 L447.40,324.73 L447.90,324.56 L448.40,324.38 L448.90,324.19 L449.40,324.00 L449.90,323.81 L450.40,323.60 L450.90,323.40 L451.40,323.19 L451.90,322.97 L452.40,322.75 L452.90,322.52 L453.40,322.28 L453.90,322.05 L454.40,321.80 L454.90,321.55 L455.40,321.29 L455.90,321.03 L456.40,320.76 L456.90,320.49 L457.40,320.21 L457.90,319.92 L458.40,319.63 L458.90,319.33 L459.40,319.03 L459.90,318.72 L460.40,318.41 L460.90,318.09 L461.40,317.76 L461.90,317.43 L462.40,317.09 L462.90,316.75 L463.40,316.40 L463.90,316.04 L464.40,315.68 L464.90,315.31 L465.40,314.94 L465.90,314.56 L466.40,314.18 L466.90,313.79 L467.40,313.40 L467.90,313.00 L468.40,312.59 L468.90,312.18 L469.40,311.77 L469.90,311.35 L470.40,310.93 L470.90,310.50 L471.40,310.06 L471.90,309.63 L472.40,309.18 L472.90,308.74 L473.40,308.29 L473.90,307.83 L474.40,307.37 L474.90,306.91 L475.40,306.44 L475.90,305.97 L476.40,305.49 L476.90,305.01 L477.40,304.53 L477.90,304.04 L478.40,303.55 L478.90,303.06 L479.40,302.56 L479.90,302.06 L480.40,301.56 L480.90,301.05 L481.40,300.54 L481.90,300.03 L482.40,299.52 L482.90,299.00 L483.40,298.48 L483.90,297.96 L484.40,297.43 L484.90,296.91 L485.40,296.38 L485.90,295.84 L486.40,295.31 L486.90,294.77 L487.40,294.24 L487.90,293.70 L488.40,293.15 L488.90,292.61 L489.40,292.06 L489.90,291.52 L490.40,290.97 L490.90,290.42 L491.40,289.86 L491.90,289.31 L492.40,288.75 L492.90,288.20 L493.40,287.64 L493.90,287.08 L494.40,286.52 L494.90,285.96 L495.40,285.39 L495.90,284.83 L496.40,284.26 L496.90,283.70 L497.40,283.13 L497.90,282.56 L498.40,281.99 L498.90,281.42 L499.40,280.85 L499.90,280.28 L500.40,279.70 L500.90,279.13 L501.40,278.55 L501.90,277.98 L502.40,277.40 L502.90,276.83 L503.40,276.25 L503.90,275.67 L504.40,275.09 L504.90,274.51 L505.40,273.93 L505.90,273.35 L506.40,272.77 L506.90,272.19 L507.40,271.61 L507.90,271.02 L508.40,270.44 L508.90,269.86 L509.40,269.27 L509.90,268.69 L510.40,268.10 L510.90,267.52 L511.40,266.93 L511.90,266.35 L512.40,265.76 L512.90,265.18 L513.40,264.59 L513.90,264.00 L514.40,263.41 L514.90,262.83 L515.40,262.24 L515.90,261.65 L516.40,261.06 L516.90,260.47 L517.40,259.89 L517.90,259.30 L518.40,258.71 L518.90,258.12 L519.40,257.53 L519.90,256.94 L520.40,256.35 L520.90,255.76 L521.40,255.17 L521.90,254.58 L522.40,253.99 L522.90,253.40 L523.40,252.80 L523.90,252.21 L524.40,251.62 L524.90,251.03 L525.40,250.44 L525.90,249.85 L526.40,249.26 L526.90,248.66 L527.40,248.07 L527.90,247.48 L528.40,246.89 L528.90,246.29 L529.40,245.70 L529.90,245.11 L530.40,244.52 L530.90,243.92 L531.40,243.33 L531.90,242.74 L532.40,242.15 L532.90,241.55 L533.40,240.96 L533.90,240.37 L534.40,239.77 L534.90,239.18 L535.40,238.59 L535.90,237.99 L536.40,237.40 L536.90,236.81 L537.40,236.21 L537.90,235.62 L538.40,235.03 L538.90,234.43 L539.40,233.84 L539.90,233.25 L540.40,232.65 L540.90,232.06 L541.40,231.47 L541.90,230.87 L542.40,230.28 L542.90,229.68 L543.40,229.09" stroke="#14259a" stroke-width="2.2" stroke-dasharray="18.35 4.73" stroke-dashoffset="17.69"/>
<path d="M306.90,329.92 L307.40,329.92 L307.90,329.92 L308.40,329.92 L308.90,329.92 L309.40,329.92 L309.90,329.92 L310.40,329.92 L310.90,329.92 L311.40,329.92 L311.90,329.92 L312.40,329.92 L312.90,329.92 L313.40,329.92 L313.90,329.92 L314.40,329.92 L314.90,329.92 L315.40,329.92 L315.90,329.92 L316.40,329.92 L316.90,329.92 L317.40,329.92 L317.90,329.92 L318.40,329.92 L318.90,329.92 L319.40,329.92 L319.90,329.92 L320.40,329.92 L320.90,329.92 L321.40,329.92 L321.90,329.92 L322.40,329.92 L322.90,329.92 L323.40,329.92 L323.90,329.92 L324.40,329.92 L324.90,329.92 L325.40,329.92 L325.90,329.92 L326.40,329.92 L326.90,329.92 L327.40,329.92 L327.90,329.92 L328.40,329.92 L328.90,329.92 L329.40,329.92 L329.90,329.92 L330.40,329.92 L330.90,329.92 L331.40,329.92 L331.90,329.92 L332.40,329.92 L332.90,329.92 L333.40,329.92 L333.90,329.92 L334.40,329.92 L334.90,329.92 L335.40,329.92 L335.90,329.92 L336.40,329.92 L336.90,329.92 L337.40,329.92 L337.90,329.92 L338.40,329.92 L338.90,329.92 L339.40,329.92 L339.90,329.92 L340.40,329.92 L340.90,329.92 L341.40,329.92 L341.90,329.92 L342.40,329.92 L342.90,329.92 L343.40,329.92 L343.90,329.92 L344.40,329.92 L344.90,329.92 L345.40,329.92 L345.90,329.92 L346.40,329.92 L346.90,329.92 L347.40,329.92 L347.90,329.92 L348.40,329.92 L348.90,329.92 L349.40,329.92 L349.90,329.92 L350.40,329.92 L350.90,329.92 L351.40,329.92 L351.90,329.92 L352.40,329.92 L352.90,329.92 L353.40,329.91 L353.90,329.91 L354.40,329.91 L354.90,329.91 L355.40,329.91 L355.90,329.91 L356.40,329.91 L356.90,329.91 L357.40,329.91 L357.90,329.91 L358.40,329.91 L358.90,329.91 L359.40,329.91 L359.90,329.91 L360.40,329.91 L360.90,329.91 L361.40,329.91 L361.90,329.91 L362.40,329.91 L362.90,329.91 L363.40,329.91 L363.90,329.91 L364.40,329.91 L364.90,329.91 L365.40,329.91 L365.90,329.91 L366.40,329.91 L366.90,329.91 L367.40,329.91 L367.90,329.91 L368.40,329.91 L368.90,329.91 L369.40,329.91 L369.90,329.91 L370.40,329.91 L370.90,329.91 L371.40,329.91 L371.90,329.91 L372.40,329.91 L372.90,329.91 L373.40,329.91 L373.90,329.91 L374.40,329.91 L374.90,329.91 L375.40,329.90 L375.90,329.90 L376.40,329.90 L376.90,329.90 L377.40,329.90 L377.90,329.90 L378.40,329.90 L378.90,329.90 L379.40,329.90 L379.90,329.90 L380.40,329.90 L380.90,329.90 L381.40,329.90 L381.90,329.90 L382.40,329.90 L382.90,329.89 L383.40,329.89 L383.90,329.89 L384.40,329.89 L384.90,329.89 L385.40,329.89 L385.90,329.89 L386.40,329.89 L386.90,329.89 L387.40,329.89 L387.90,329.88 L388.40,329.88 L388.90,329.88 L389.40,329.88 L389.90,329.88 L390.40,329.88 L390.90,329.88 L391.40,329.87 L391.90,329.87 L392.40,329.87 L392.90,329.87 L393.40,329.87 L393.90,329.86 L394.40,329.86 L394.90,329.86 L395.40,329.86 L395.90,329.86 L396.40,329.85 L396.90,329.85 L397.40,329.85 L397.90,329.85 L398.40,329.84 L398.90,329.84 L399.40,329.84 L399.90,329.83 L400.40,329.83 L400.90,329.83 L401.40,329.82 L401.90,329.82 L402.40,329.82 L402.90,329.81 L403.40,329.81 L403.90,329.80 L404.40,329.80 L404.90,329.79 L405.40,329.79 L405.90,329.78 L406.40,329.78 L406.90,329.77 L407.40,329.77 L407.90,329.76 L408.40,329.75 L408.90,329.75 L409.40,329.74 L409.90,329.73 L410.40,329.73 L410.90,329.72 L411.40,329.71 L411.90,329.70 L412.40,329.70 L412.90,329.69 L413.40,329.68 L413.90,329.67 L414.40,329.66 L414.90,329.65 L415.40,329.64 L415.90,329.63 L416.40,329.62 L416.90,329.60 L417.40,329.59 L417.90,329.58 L418.40,329.57 L418.90,329.55 L419.40,329.54 L419.90,329.52 L420.40,329.51 L420.90,329.49 L421.40,329.47 L421.90,329.46 L422.40,329.44 L422.90,329.42 L423.40,329.40 L423.90,329.38 L424.40,329.36 L424.90,329.34 L425.40,329.31 L425.90,329.29 L426.40,329.27 L426.90,329.24 L427.40,329.21 L427.90,329.19 L428.40,329.16 L428.90,329.13 L429.40,329.10 L429.90,329.07 L430.40,329.03 L430.90,329.00 L431.40,328.96 L431.90,328.93 L432.40,328.89 L432.90,328.85 L433.40,328.81 L433.90,328.77 L434.40,328.72 L434.90,328.68 L435.40,328.63 L435.90,328.58 L436.40,328.53 L436.90,328.48 L437.40,328.42 L437.90,328.36 L438.40,328.30 L438.90,328.24 L439.40,328.18 L439.90,328.12 L440.40,328.05 L440.90,327.98 L441.40,327.91 L441.90,327.83 L442.40,327.75 L442.90,327.67 L443.40,327.59 L443.90,327.50 L444.40,327.41 L444.90,327.32 L445.40,327.23 L445.90,327.13 L446.40,327.03 L446.90,326.92 L447.40,326.82 L447.90,326.70 L448.40,326.59 L448.90,326.47 L449.40,326.35 L449.90,326.22 L450.40,326.09 L450.90,325.95 L451.40,325.82 L451.90,325.67 L452.40,325.52 L452.90,325.37 L453.40,325.22 L453.90,325.06 L454.40,324.89 L454.90,324.72 L455.40,324.54 L455.90,324.36 L456.40,324.18 L456.90,323.99 L457.40,323.79 L457.90,323.59 L458.40,323.39 L458.90,323.17 L459.40,322.96 L459.90,322.73 L460.40,322.51 L460.90,322.27 L461.40,322.03 L461.90,321.79 L462.40,321.54 L462.90,321.28 L463.40,321.02 L463.90,320.75 L464.40,320.48 L464.90,320.20 L465.40,319.91 L465.90,319.62 L466.40,319.32 L466.90,319.02 L467.40,318.71 L467.90,318.39 L468.40,318.07 L468.90,317.74 L469.40,317.41 L469.90,317.07 L470.40,316.72 L470.90,316.37 L471.40,316.01 L471.90,315.65 L472.40,315.28 L472.90,314.90 L473.40,314.52 L473.90,314.13 L474.40,313.74 L474.90,313.35 L475.40,312.94 L475.90,312.53 L476.40,312.12 L476.90,311.70 L477.40,311.28 L477.90,310.85 L478.40,310.41 L478.90,309.98 L479.40,309.53 L479.90,309.08 L480.40,308.63 L480.90,308.17 L481.40,307.71 L481.90,307.24 L482.40,306.77 L482.90,306.30 L483.40,305.82 L483.90,305.33 L484.40,304.84 L484.90,304.35 L485.40,303.86 L485.90,303.36 L486.40,302.86 L486.90,302.35 L487.40,301.84 L487.90,301.33 L488.40,300.81 L488.90,300.29 L489.40,299.77 L489.90,299.24 L490.40,298.71 L490.90,298.18 L491.40,297.65 L491.90,297.11 L492.40,296.57 L492.90,296.03 L493.40,295.49 L493.90,294.94 L494.40,294.39 L494.90,293.84 L495.40,293.29 L495.90,292.73 L496.40,292.17 L496.90,291.61 L497.40,291.05 L497.90,290.49 L498.40,289.92 L498.90,289.35 L499.40,288.79 L499.90,288.22 L500.40,287.64 L500.90,287.07 L501.40,286.50 L501.90,285.92 L502.40,285.34 L502.90,284.76 L503.40,284.18 L503.90,283.60 L504.40,283.02 L504.90,282.43 L505.40,281.85 L505.90,281.26 L506.40,280.67 L506.90,280.09 L507.40,279.50 L507.90,278.91 L508.40,278.32 L508.90,277.72 L509.40,277.13 L509.90,276.54 L510.40,275.94 L510.90,275.35 L511.40,274.75 L511.90,274.16 L512.40,273.56 L512.90,272.96 L513.40,272.36 L513.90,271.76 L514.40,271.16 L514.90,270.56 L515.40,269.96 L515.90,269.36 L516.40,268.76 L516.90,268.16 L517.40,267.56 L517.90,266.95 L518.40,266.35 L518.90,265.74 L519.40,265.14 L519.90,264.54 L520.40,263.93 L520.90,263.32 L521.40,262.72 L521.90,262.11 L522.40,261.51 L522.90,260.90 L523.40,260.29 L523.90,259.68 L524.40,259.08 L524.90,258.47 L525.40,257.86 L525.90,257.25 L526.40,256.64 L526.90,256.03 L527.40,255.43 L527.90,254.82 L528.40,254.21 L528.90,253.60 L529.40,252.99 L529.90,252.38 L530.40,251.77 L530.90,251.16 L531.40,250.55 L531.90,249.94 L532.40,249.32 L532.90,248.71 L533.40,248.10 L533.90,247.49 L534.40,246.88 L534.90,246.27 L535.40,245.66 L535.90,245.04 L536.40,244.43 L536.90,243.82 L537.40,243.21 L537.90,242.60 L538.40,241.98 L538.90,241.37 L539.40,240.76 L539.90,240.15 L540.40,239.53 L540.90,238.92 L541.40,238.31 L541.90,237.70 L542.40,237.08 L542.90,236.47 L543.40,235.86" stroke="#6a0f5c" stroke-width="2.2" stroke-dasharray="1.805 3.815 8.62 3.61" stroke-dashoffset="12.9"/>
</g></g>
<rect x="312.9" y="192.7" width="225.00" height="106.40" fill="none" stroke="#000" stroke-width="1.5" stroke-linejoin="round"/>
<line x1="310.00" y1="196.30" x2="312.9" y2="196.30" stroke="#000" stroke-width="1.35"/>
<text transform="translate(301.10,196.30) rotate(-90)" text-anchor="middle" dominant-baseline="central" font-size="8.2" style="stroke-width:0.0px">6</text>
<line x1="310.00" y1="221.00" x2="312.9" y2="221.00" stroke="#000" stroke-width="1.35"/>
<text transform="translate(301.10,221.00) rotate(-90)" text-anchor="middle" dominant-baseline="central" font-size="8.2" style="stroke-width:0.0px">4</text>
<line x1="310.00" y1="245.70" x2="312.9" y2="245.70" stroke="#000" stroke-width="1.35"/>
<text transform="translate(301.10,245.70) rotate(-90)" text-anchor="middle" dominant-baseline="central" font-size="8.2" style="stroke-width:0.0px">2</text>
<line x1="310.00" y1="270.40" x2="312.9" y2="270.40" stroke="#000" stroke-width="1.35"/>
<text transform="translate(301.10,270.40) rotate(-90)" text-anchor="middle" dominant-baseline="central" font-size="8.2" style="stroke-width:0.0px">0</text>
<line x1="310.00" y1="295.10" x2="312.9" y2="295.10" stroke="#000" stroke-width="1.35"/>
<text transform="translate(301.10,295.10) rotate(-90)" text-anchor="middle" dominant-baseline="central" font-size="8.2" style="stroke-width:0.0px">-2</text>
<line x1="321.1" y1="299.1" x2="321.1" y2="301.70" stroke="#000" stroke-width="1.35"/>
<text transform="translate(320.30,313.00) scale(1,1.1)" text-anchor="middle" font-size="6.2" style="stroke-width:0.05px">1</text>
<line x1="347.3" y1="299.1" x2="347.3" y2="301.70" stroke="#000" stroke-width="1.35"/>
<text transform="translate(341.10,313.00) scale(1,1.1)" text-anchor="middle" font-size="6.2" style="stroke-width:0.05px">4</text>
<line x1="373.3" y1="299.1" x2="373.3" y2="301.70" stroke="#000" stroke-width="1.35"/>
<text transform="translate(372.00,313.00) scale(1,1.1)" text-anchor="middle" font-size="6.2" style="stroke-width:0.05px">16</text>
<line x1="399.6" y1="299.1" x2="399.6" y2="301.70" stroke="#000" stroke-width="1.35"/>
<text transform="translate(398.10,313.00) scale(1,1.1)" text-anchor="middle" font-size="6.2" style="stroke-width:0.05px">64</text>
<line x1="425.5" y1="299.1" x2="425.5" y2="301.70" stroke="#000" stroke-width="1.35"/>
<text transform="translate(423.20,313.00) scale(1,1.1)" text-anchor="middle" font-size="6.2" style="stroke-width:0.05px">256</text>
<line x1="451.6" y1="299.1" x2="451.6" y2="301.70" stroke="#000" stroke-width="1.35"/>
<text transform="translate(449.00,313.00) scale(1,1.1)" text-anchor="middle" font-size="6.2" style="stroke-width:0.05px">1024</text>
<line x1="477.6" y1="299.1" x2="477.6" y2="301.70" stroke="#000" stroke-width="1.35"/>
<line x1="503.7" y1="299.1" x2="503.7" y2="301.70" stroke="#000" stroke-width="1.35"/>
<text transform="translate(501.10,313.00) scale(1,1.1)" text-anchor="middle" font-size="6.2" style="stroke-width:0.05px">4096</text>
<line x1="529.7" y1="299.1" x2="529.7" y2="301.70" stroke="#000" stroke-width="1.35"/>
<text transform="translate(422.40,327.30) scale(1,1.1)" text-anchor="middle" font-size="6.55" style="stroke-width:0.05px">mu-hat</text>
<text transform="translate(284.20,243.90) rotate(-90)" text-anchor="middle" dominant-baseline="central" font-size="8.2" style="stroke-width:0.0px">error</text>
<text transform="translate(325.5,178.7) scale(1,1.07)" font-size="9.8" style="stroke-width:0.05px" textLength="166.6" lengthAdjust="spacingAndGlyphs">m = 256, B = 64; pm = 256, mm = 512</text>
<line x1="344.4" y1="209.4" x2="365.8" y2="209.4" stroke="#000000" stroke-width="1.5"/>
<text x="375.8" y="212.70" font-size="6.6" style="stroke-width:0.1px">true</text>
<line x1="344.4" y1="216.9" x2="365.8" y2="216.9" stroke="#182a88" stroke-width="1.5" stroke-dasharray="9.3 2.4" stroke-dashoffset="0"/>
<text x="375.8" y="220.20" font-size="6.6" style="stroke-width:0.1px">plier</text>
<line x1="344.4" y1="224.4" x2="365.8" y2="224.4" stroke="#6a0f5c" stroke-width="1.5" stroke-dasharray="0.9 1.9 4.3 1.8" stroke-dashoffset="0"/>
<text x="375.8" y="227.70" font-size="6.6" style="stroke-width:0.1px">plier-bc</text>
</svg>
</body></html>
